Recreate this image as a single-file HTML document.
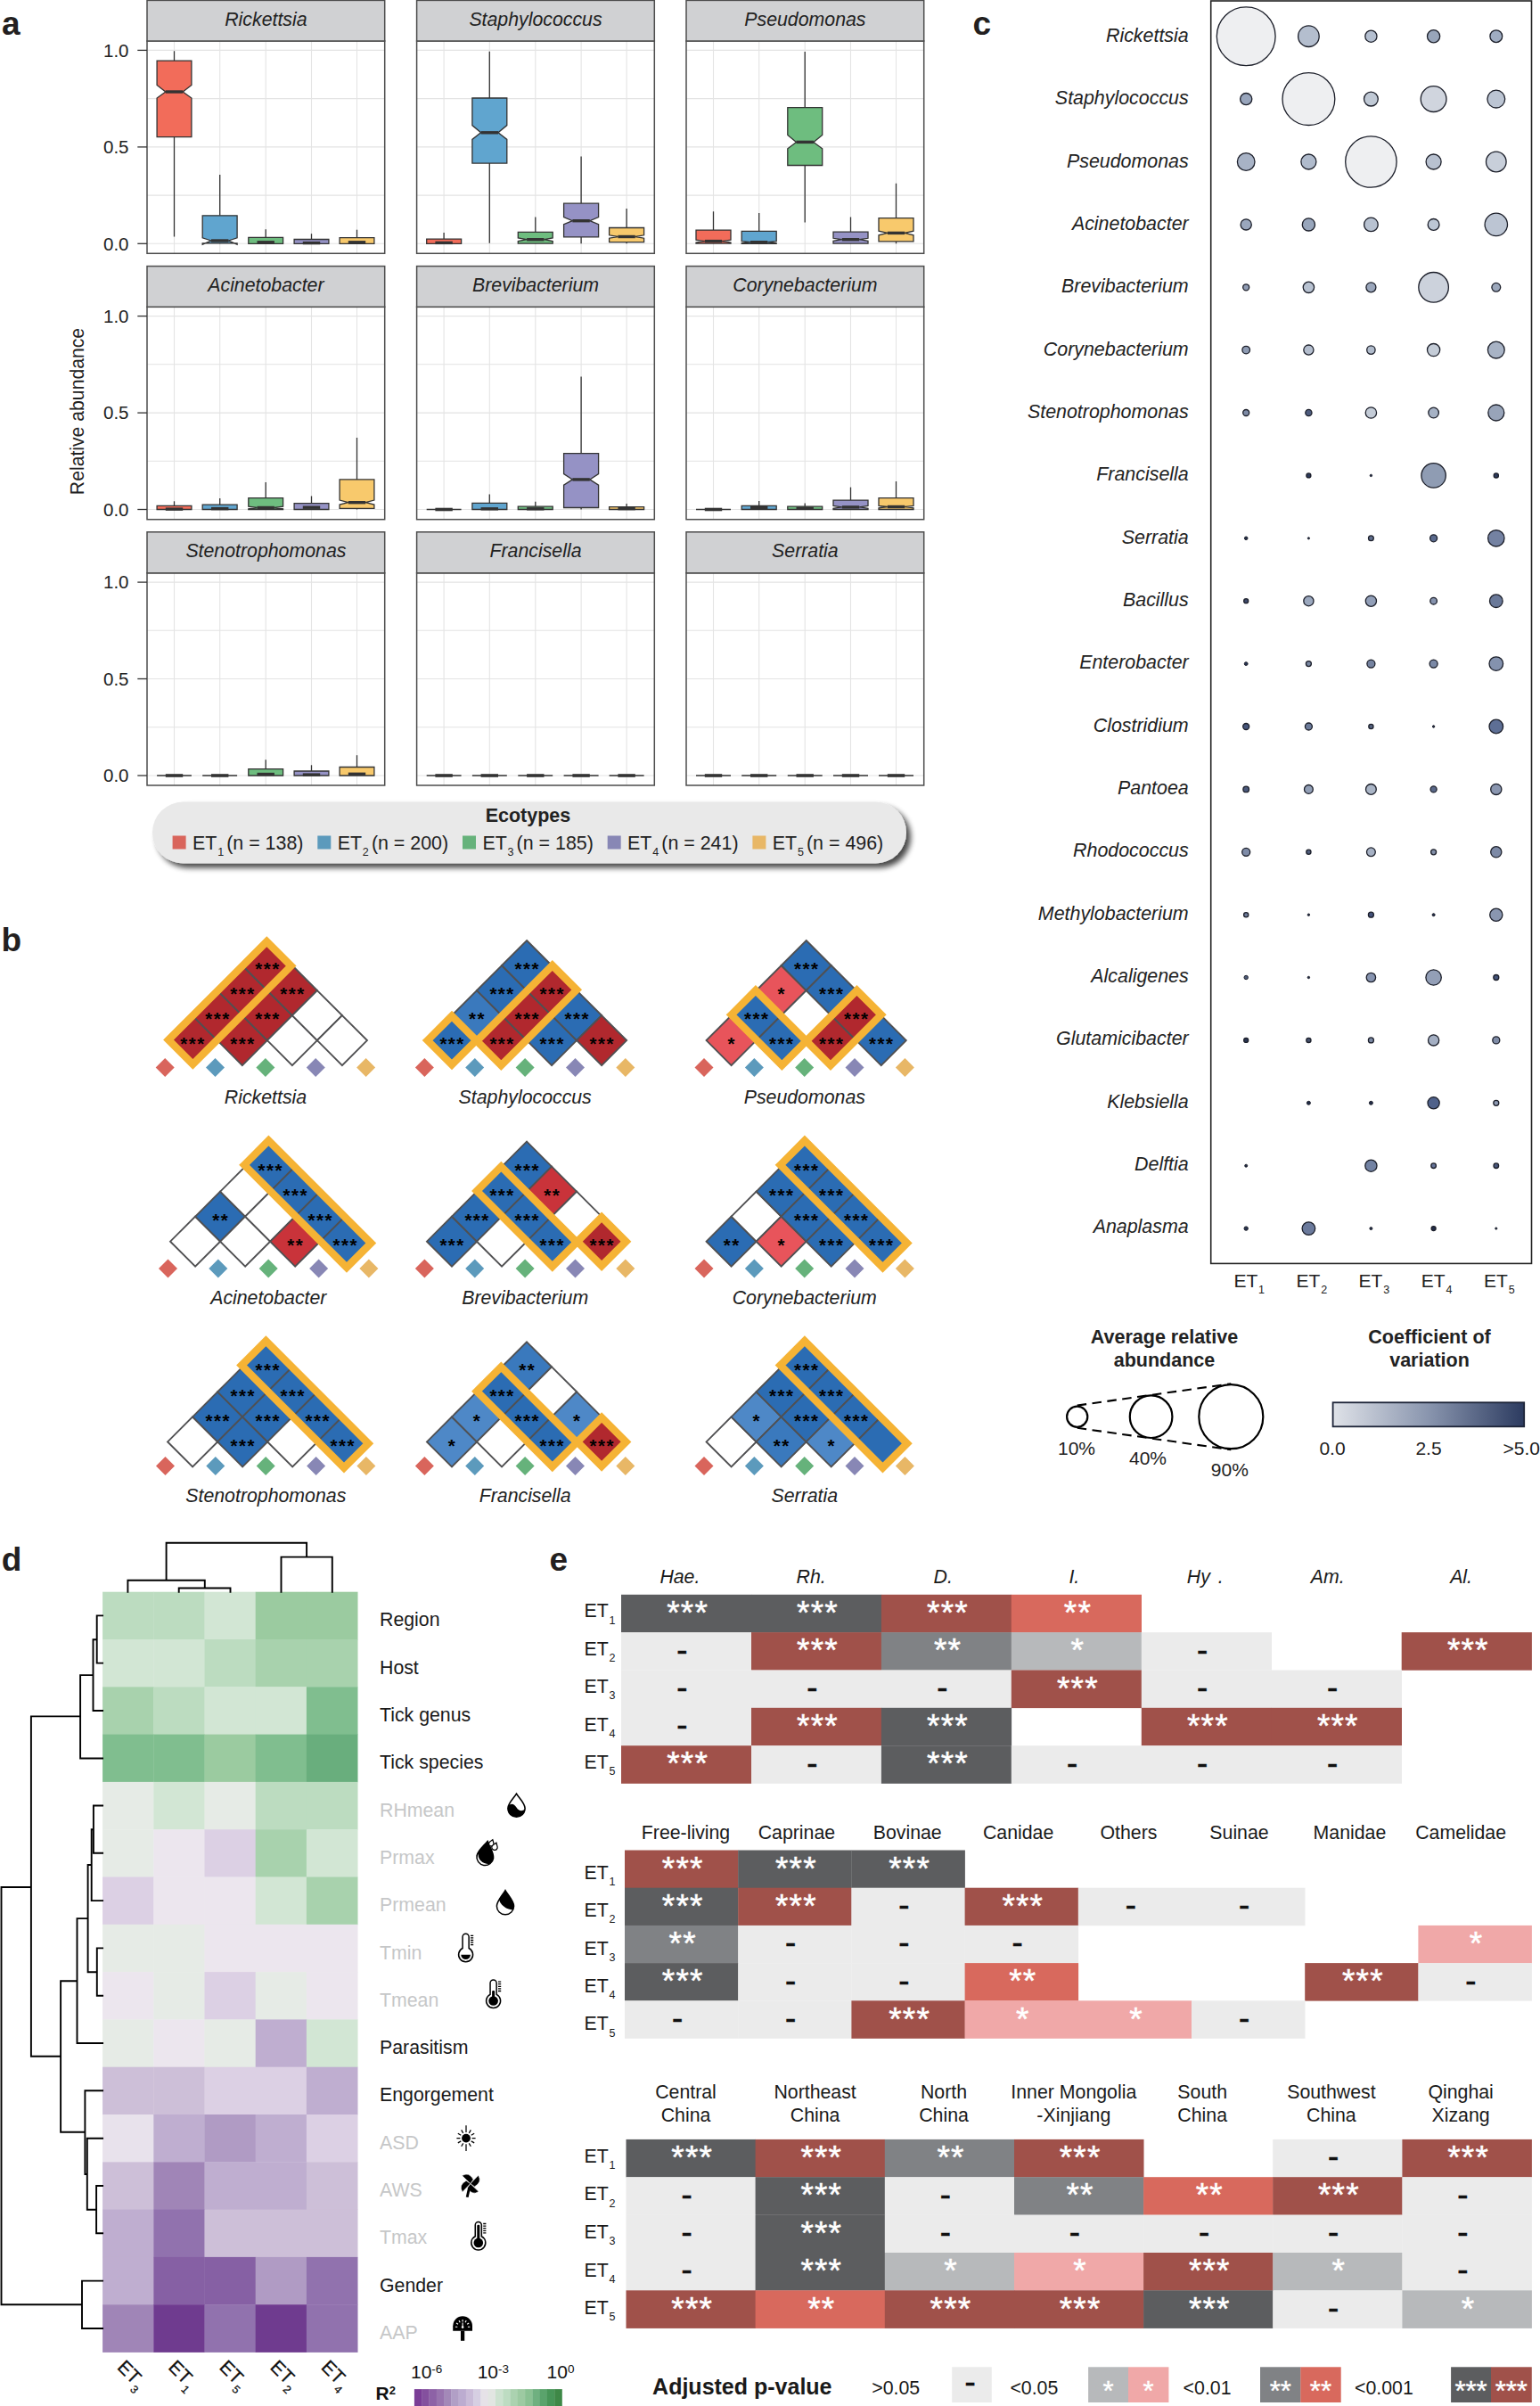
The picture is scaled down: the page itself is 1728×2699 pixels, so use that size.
<!DOCTYPE html>
<html lang="en"><head><meta charset="utf-8"><title>Figure</title>
<style>html,body{margin:0;padding:0;background:#fff}svg{display:block}text{font-family:"Liberation Sans",sans-serif}</style></head>
<body>
<svg width="1728" height="2699" viewBox="0 0 1728 2699">
<rect width="1728" height="2699" fill="#fff"/>
<rect x="165.0" y="46.0" width="266.7" height="238.3" fill="#fff"/>
<path d="M165.0 273.3H431.7M165.0 219.1H431.7M165.0 164.9H431.7M165.0 110.6H431.7M165.0 56.4H431.7M195.5 46.0V284.3M246.7 46.0V284.3M298.2 46.0V284.3M349.5 46.0V284.3M400.5 46.0V284.3" stroke="#e4e4e4" stroke-width="1.1" fill="none"/>
<path d="M195.5 57.3V68.1M195.5 153.6V265.5" stroke="#333" stroke-width="1.3"/>
<polygon points="176.1,68.1 214.9,68.1 214.9,95.4 205.2,103.0 214.9,110.0 214.9,153.6 176.1,153.6 176.1,110.0 185.8,103.0 176.1,95.4" fill="#f26c5a" stroke="#333" stroke-width="1.3" stroke-linejoin="miter"/>
<path d="M185.8 103.0H205.2" stroke="#333" stroke-width="3.4"/>
<path d="M246.7 196.1V241.8M246.7 272.9V273.3" stroke="#333" stroke-width="1.3"/>
<polygon points="227.2,241.8 266.1,241.8 266.1,266.8 256.4,270.0 266.1,274.2 266.1,272.9 227.2,272.9 227.2,274.2 237.0,270.0 227.2,266.8" fill="#60a5cf" stroke="#333" stroke-width="1.3" stroke-linejoin="miter"/>
<path d="M237.0 270.0H256.4" stroke="#333" stroke-width="3.4"/>
<path d="M298.2 257.2V266.4M298.2 273.3V273.3" stroke="#333" stroke-width="1.3"/>
<polygon points="278.8,266.4 317.6,266.4 317.6,273.3 278.8,273.3" fill="#6ebd7f" stroke="#333" stroke-width="1.3" stroke-linejoin="miter"/>
<path d="M288.5 271.8H307.9" stroke="#333" stroke-width="3.4"/>
<path d="M349.5 262.2V268.5M349.5 273.3V273.3" stroke="#333" stroke-width="1.3"/>
<polygon points="330.1,268.5 368.9,268.5 368.9,273.3 330.1,273.3" fill="#9592c5" stroke="#333" stroke-width="1.3" stroke-linejoin="miter"/>
<path d="M339.8 272.6H359.2" stroke="#333" stroke-width="3.4"/>
<path d="M400.5 257.7V266.6M400.5 273.3V273.3" stroke="#333" stroke-width="1.3"/>
<polygon points="381.1,266.6 419.9,266.6 419.9,273.3 381.1,273.3" fill="#f8c96c" stroke="#333" stroke-width="1.3" stroke-linejoin="miter"/>
<path d="M390.8 271.8H410.2" stroke="#333" stroke-width="3.4"/>
<rect x="165.0" y="46.0" width="266.7" height="238.3" fill="none" stroke="#4d4d4d" stroke-width="1.5"/>
<rect x="165.0" y="0.4" width="266.7" height="45.6" fill="#d0d1d3" stroke="#4d4d4d" stroke-width="1.5"/>
<text x="298.4" y="29.0" font-size="21.3" text-anchor="middle" font-style="italic" fill="#222">Rickettsia</text>
<rect x="467.6" y="46.0" width="266.7" height="238.3" fill="#fff"/>
<path d="M467.6 273.3H734.3M467.6 219.1H734.3M467.6 164.9H734.3M467.6 110.6H734.3M467.6 56.4H734.3M498.1 46.0V284.3M549.3 46.0V284.3M600.8 46.0V284.3M652.1 46.0V284.3M703.1 46.0V284.3" stroke="#e4e4e4" stroke-width="1.1" fill="none"/>
<path d="M498.1 260.9V268.1M498.1 273.3V273.3" stroke="#333" stroke-width="1.3"/>
<polygon points="478.7,268.1 517.6,268.1 517.6,273.3 478.7,273.3" fill="#f26c5a" stroke="#333" stroke-width="1.3" stroke-linejoin="miter"/>
<path d="M488.4 272.4H507.8" stroke="#333" stroke-width="3.4"/>
<path d="M549.3 57.7V110.0M549.3 183.1V272.8" stroke="#333" stroke-width="1.3"/>
<polygon points="529.9,110.0 568.8,110.0 568.8,140.6 559.0,148.8 568.8,156.4 568.8,183.1 529.9,183.1 529.9,156.4 539.6,148.8 529.9,140.6" fill="#60a5cf" stroke="#333" stroke-width="1.3" stroke-linejoin="miter"/>
<path d="M539.6 148.8H559.0" stroke="#333" stroke-width="3.4"/>
<path d="M600.8 243.4V260.4M600.8 273.1V273.3" stroke="#333" stroke-width="1.3"/>
<polygon points="581.3,260.4 620.2,260.4 620.2,267.0 610.5,268.7 620.2,270.6 620.2,273.1 581.3,273.1 581.3,270.6 591.1,268.7 581.3,267.0" fill="#6ebd7f" stroke="#333" stroke-width="1.3" stroke-linejoin="miter"/>
<path d="M591.1 268.7H610.5" stroke="#333" stroke-width="3.4"/>
<path d="M652.1 175.5V228.2M652.1 265.9V273.3" stroke="#333" stroke-width="1.3"/>
<polygon points="632.6,228.2 671.6,228.2 671.6,243.6 661.8,247.7 671.6,251.6 671.6,265.9 632.6,265.9 632.6,251.6 642.4,247.7 632.6,243.6" fill="#9592c5" stroke="#333" stroke-width="1.3" stroke-linejoin="miter"/>
<path d="M642.4 247.7H661.8" stroke="#333" stroke-width="3.4"/>
<path d="M703.1 234.0V255.5M703.1 271.6V273.3" stroke="#333" stroke-width="1.3"/>
<polygon points="683.6,255.5 722.6,255.5 722.6,263.8 712.8,265.5 722.6,267.2 722.6,271.6 683.6,271.6 683.6,267.2 693.4,265.5 683.6,263.8" fill="#f8c96c" stroke="#333" stroke-width="1.3" stroke-linejoin="miter"/>
<path d="M693.4 265.5H712.8" stroke="#333" stroke-width="3.4"/>
<rect x="467.6" y="46.0" width="266.7" height="238.3" fill="none" stroke="#4d4d4d" stroke-width="1.5"/>
<rect x="467.6" y="0.4" width="266.7" height="45.6" fill="#d0d1d3" stroke="#4d4d4d" stroke-width="1.5"/>
<text x="601.0" y="29.0" font-size="21.3" text-anchor="middle" font-style="italic" fill="#222">Staphylococcus</text>
<rect x="770.0" y="46.0" width="266.7" height="238.3" fill="#fff"/>
<path d="M770.0 273.3H1036.7M770.0 219.1H1036.7M770.0 164.9H1036.7M770.0 110.6H1036.7M770.0 56.4H1036.7M800.5 46.0V284.3M851.7 46.0V284.3M903.2 46.0V284.3M954.5 46.0V284.3M1005.5 46.0V284.3" stroke="#e4e4e4" stroke-width="1.1" fill="none"/>
<path d="M800.5 237.3V258.1M800.5 273.1V273.3" stroke="#333" stroke-width="1.3"/>
<polygon points="781.0,258.1 820.0,258.1 820.0,269.2 810.2,270.6 820.0,272.0 820.0,273.1 781.0,273.1 781.0,272.0 790.8,270.6 781.0,269.2" fill="#f26c5a" stroke="#333" stroke-width="1.3" stroke-linejoin="miter"/>
<path d="M790.8 270.6H810.2" stroke="#333" stroke-width="3.4"/>
<path d="M851.7 239.0V259.4M851.7 273.3V273.3" stroke="#333" stroke-width="1.3"/>
<polygon points="832.2,259.4 871.2,259.4 871.2,270.6 861.4,271.7 871.2,272.8 871.2,273.3 832.2,273.3 832.2,272.8 842.0,271.7 832.2,270.6" fill="#60a5cf" stroke="#333" stroke-width="1.3" stroke-linejoin="miter"/>
<path d="M842.0 271.7H861.4" stroke="#333" stroke-width="3.4"/>
<path d="M903.2 57.9V120.6M903.2 185.5V249.4" stroke="#333" stroke-width="1.3"/>
<polygon points="883.8,120.6 922.7,120.6 922.7,151.4 912.9,159.4 922.7,166.8 922.7,185.5 883.8,185.5 883.8,166.8 893.5,159.4 883.8,151.4" fill="#6ebd7f" stroke="#333" stroke-width="1.3" stroke-linejoin="miter"/>
<path d="M893.5 159.4H912.9" stroke="#333" stroke-width="3.4"/>
<path d="M954.5 243.4V260.1M954.5 273.1V273.3" stroke="#333" stroke-width="1.3"/>
<polygon points="935.0,260.1 974.0,260.1 974.0,267.3 964.2,268.7 974.0,270.4 974.0,273.1 935.0,273.1 935.0,270.4 944.8,268.7 935.0,267.3" fill="#9592c5" stroke="#333" stroke-width="1.3" stroke-linejoin="miter"/>
<path d="M944.8 268.7H964.2" stroke="#333" stroke-width="3.4"/>
<path d="M1005.5 205.8V244.7M1005.5 270.9V273.3" stroke="#333" stroke-width="1.3"/>
<polygon points="986.0,244.7 1025.0,244.7 1025.0,259.2 1015.2,261.4 1025.0,263.8 1025.0,270.9 986.0,270.9 986.0,263.8 995.8,261.4 986.0,259.2" fill="#f8c96c" stroke="#333" stroke-width="1.3" stroke-linejoin="miter"/>
<path d="M995.8 261.4H1015.2" stroke="#333" stroke-width="3.4"/>
<rect x="770.0" y="46.0" width="266.7" height="238.3" fill="none" stroke="#4d4d4d" stroke-width="1.5"/>
<rect x="770.0" y="0.4" width="266.7" height="45.6" fill="#d0d1d3" stroke="#4d4d4d" stroke-width="1.5"/>
<text x="903.4" y="29.0" font-size="21.3" text-anchor="middle" font-style="italic" fill="#222">Pseudomonas</text>
<path d="M154.3 273.3H165" stroke="#333" stroke-width="1.3"/>
<text x="144.5" y="280.5" font-size="20.5" text-anchor="end" fill="#222">0.0</text>
<path d="M154.3 164.9H165" stroke="#333" stroke-width="1.3"/>
<text x="144.5" y="172.1" font-size="20.5" text-anchor="end" fill="#222">0.5</text>
<path d="M154.3 56.4H165" stroke="#333" stroke-width="1.3"/>
<text x="144.5" y="63.6" font-size="20.5" text-anchor="end" fill="#222">1.0</text>
<rect x="165.0" y="344.3" width="266.7" height="238.4" fill="#fff"/>
<path d="M165.0 571.5H431.7M165.0 517.3H431.7M165.0 463.1H431.7M165.0 408.8H431.7M165.0 354.6H431.7M195.5 344.3V582.7M246.7 344.3V582.7M298.2 344.3V582.7M349.5 344.3V582.7M400.5 344.3V582.7" stroke="#e4e4e4" stroke-width="1.1" fill="none"/>
<path d="M195.5 562.3V567.4M195.5 571.5V571.5" stroke="#333" stroke-width="1.3"/>
<polygon points="176.1,567.4 214.9,567.4 214.9,571.5 176.1,571.5" fill="#f26c5a" stroke="#333" stroke-width="1.3" stroke-linejoin="miter"/>
<path d="M185.8 571.1H205.2" stroke="#333" stroke-width="3.4"/>
<path d="M246.7 559.1V566.1M246.7 571.5V571.5" stroke="#333" stroke-width="1.3"/>
<polygon points="227.2,566.1 266.1,566.1 266.1,571.5 227.2,571.5" fill="#60a5cf" stroke="#333" stroke-width="1.3" stroke-linejoin="miter"/>
<path d="M237.0 570.6H256.4" stroke="#333" stroke-width="3.4"/>
<path d="M298.2 540.9V558.7M298.2 571.5V571.5" stroke="#333" stroke-width="1.3"/>
<polygon points="278.8,558.7 317.6,558.7 317.6,568.2 307.9,569.5 317.6,570.8 317.6,571.5 278.8,571.5 278.8,570.8 288.5,569.5 278.8,568.2" fill="#6ebd7f" stroke="#333" stroke-width="1.3" stroke-linejoin="miter"/>
<path d="M288.5 569.5H307.9" stroke="#333" stroke-width="3.4"/>
<path d="M349.5 556.5V564.6M349.5 571.5V571.5" stroke="#333" stroke-width="1.3"/>
<polygon points="330.1,564.6 368.9,564.6 368.9,571.5 330.1,571.5" fill="#9592c5" stroke="#333" stroke-width="1.3" stroke-linejoin="miter"/>
<path d="M339.8 569.2H359.2" stroke="#333" stroke-width="3.4"/>
<path d="M400.5 491.0V537.9M400.5 570.4V571.5" stroke="#333" stroke-width="1.3"/>
<polygon points="381.1,537.9 419.9,537.9 419.9,561.1 410.2,563.7 419.9,566.1 419.9,570.4 381.1,570.4 381.1,566.1 390.8,563.7 381.1,561.1" fill="#f8c96c" stroke="#333" stroke-width="1.3" stroke-linejoin="miter"/>
<path d="M390.8 563.7H410.2" stroke="#333" stroke-width="3.4"/>
<rect x="165.0" y="344.3" width="266.7" height="238.4" fill="none" stroke="#4d4d4d" stroke-width="1.5"/>
<rect x="165.0" y="298.6" width="266.7" height="45.7" fill="#d0d1d3" stroke="#4d4d4d" stroke-width="1.5"/>
<text x="298.4" y="327.2" font-size="21.3" text-anchor="middle" font-style="italic" fill="#222">Acinetobacter</text>
<rect x="467.6" y="344.3" width="266.7" height="238.4" fill="#fff"/>
<path d="M467.6 571.5H734.3M467.6 517.3H734.3M467.6 463.1H734.3M467.6 408.8H734.3M467.6 354.6H734.3M498.1 344.3V582.7M549.3 344.3V582.7M600.8 344.3V582.7M652.1 344.3V582.7M703.1 344.3V582.7" stroke="#e4e4e4" stroke-width="1.1" fill="none"/>
<path d="M478.7 571.5H517.6" stroke="#333" stroke-width="1.6"/>
<path d="M488.4 571.5H507.8" stroke="#333" stroke-width="3.6"/>
<path d="M549.3 554.4V564.3M549.3 571.5V571.5" stroke="#333" stroke-width="1.3"/>
<polygon points="529.9,564.3 568.8,564.3 568.8,571.5 529.9,571.5" fill="#60a5cf" stroke="#333" stroke-width="1.3" stroke-linejoin="miter"/>
<path d="M539.6 570.8H559.0" stroke="#333" stroke-width="3.4"/>
<path d="M600.8 562.8V568.2M600.8 571.5V571.5" stroke="#333" stroke-width="1.3"/>
<polygon points="581.3,568.2 620.2,568.2 620.2,571.5 581.3,571.5" fill="#6ebd7f" stroke="#333" stroke-width="1.3" stroke-linejoin="miter"/>
<path d="M591.1 570.8H610.5" stroke="#333" stroke-width="3.4"/>
<path d="M652.1 422.5V508.6M652.1 569.5V571.5" stroke="#333" stroke-width="1.3"/>
<polygon points="632.6,508.6 671.6,508.6 671.6,531.6 661.8,537.9 671.6,544.2 671.6,569.5 632.6,569.5 632.6,544.2 642.4,537.9 632.6,531.6" fill="#9592c5" stroke="#333" stroke-width="1.3" stroke-linejoin="miter"/>
<path d="M642.4 537.9H661.8" stroke="#333" stroke-width="3.4"/>
<path d="M703.1 565.0V568.7M703.1 571.5V571.5" stroke="#333" stroke-width="1.3"/>
<polygon points="683.6,568.7 722.6,568.7 722.6,571.5 683.6,571.5" fill="#f8c96c" stroke="#333" stroke-width="1.3" stroke-linejoin="miter"/>
<path d="M693.4 570.6H712.8" stroke="#333" stroke-width="3.4"/>
<rect x="467.6" y="344.3" width="266.7" height="238.4" fill="none" stroke="#4d4d4d" stroke-width="1.5"/>
<rect x="467.6" y="298.6" width="266.7" height="45.7" fill="#d0d1d3" stroke="#4d4d4d" stroke-width="1.5"/>
<text x="601.0" y="327.2" font-size="21.3" text-anchor="middle" font-style="italic" fill="#222">Brevibacterium</text>
<rect x="770.0" y="344.3" width="266.7" height="238.4" fill="#fff"/>
<path d="M770.0 571.5H1036.7M770.0 517.3H1036.7M770.0 463.1H1036.7M770.0 408.8H1036.7M770.0 354.6H1036.7M800.5 344.3V582.7M851.7 344.3V582.7M903.2 344.3V582.7M954.5 344.3V582.7M1005.5 344.3V582.7" stroke="#e4e4e4" stroke-width="1.1" fill="none"/>
<path d="M781.0 571.5H820.0" stroke="#333" stroke-width="1.6"/>
<path d="M790.8 571.5H810.2" stroke="#333" stroke-width="3.6"/>
<path d="M851.7 562.0V567.4M851.7 571.5V571.5" stroke="#333" stroke-width="1.3"/>
<polygon points="832.2,567.4 871.2,567.4 871.2,571.5 832.2,571.5" fill="#60a5cf" stroke="#333" stroke-width="1.3" stroke-linejoin="miter"/>
<path d="M842.0 569.5H861.4" stroke="#333" stroke-width="3.4"/>
<path d="M903.2 564.6V568.2M903.2 571.5V571.5" stroke="#333" stroke-width="1.3"/>
<polygon points="883.8,568.2 922.7,568.2 922.7,571.5 883.8,571.5" fill="#6ebd7f" stroke="#333" stroke-width="1.3" stroke-linejoin="miter"/>
<path d="M893.5 570.2H912.9" stroke="#333" stroke-width="3.4"/>
<path d="M954.5 546.6V561.1M954.5 571.5V571.5" stroke="#333" stroke-width="1.3"/>
<polygon points="935.0,561.1 974.0,561.1 974.0,567.4 964.2,568.9 974.0,570.2 974.0,571.5 935.0,571.5 935.0,570.2 944.8,568.9 935.0,567.4" fill="#9592c5" stroke="#333" stroke-width="1.3" stroke-linejoin="miter"/>
<path d="M944.8 568.9H964.2" stroke="#333" stroke-width="3.4"/>
<path d="M1005.5 540.0V558.7M1005.5 571.5V571.5" stroke="#333" stroke-width="1.3"/>
<polygon points="986.0,558.7 1025.0,558.7 1025.0,567.4 1015.2,568.5 1025.0,569.8 1025.0,571.5 986.0,571.5 986.0,569.8 995.8,568.5 986.0,567.4" fill="#f8c96c" stroke="#333" stroke-width="1.3" stroke-linejoin="miter"/>
<path d="M995.8 568.5H1015.2" stroke="#333" stroke-width="3.4"/>
<rect x="770.0" y="344.3" width="266.7" height="238.4" fill="none" stroke="#4d4d4d" stroke-width="1.5"/>
<rect x="770.0" y="298.6" width="266.7" height="45.7" fill="#d0d1d3" stroke="#4d4d4d" stroke-width="1.5"/>
<text x="903.4" y="327.2" font-size="21.3" text-anchor="middle" font-style="italic" fill="#222">Corynebacterium</text>
<path d="M154.3 571.5H165" stroke="#333" stroke-width="1.3"/>
<text x="144.5" y="578.7" font-size="20.5" text-anchor="end" fill="#222">0.0</text>
<path d="M154.3 463.1H165" stroke="#333" stroke-width="1.3"/>
<text x="144.5" y="470.2" font-size="20.5" text-anchor="end" fill="#222">0.5</text>
<path d="M154.3 354.6H165" stroke="#333" stroke-width="1.3"/>
<text x="144.5" y="361.8" font-size="20.5" text-anchor="end" fill="#222">1.0</text>
<rect x="165.0" y="642.8" width="266.7" height="238.2" fill="#fff"/>
<path d="M165.0 870.0H431.7M165.0 815.8H431.7M165.0 761.5H431.7M165.0 707.3H431.7M165.0 653.1H431.7M195.5 642.8V881.0M246.7 642.8V881.0M298.2 642.8V881.0M349.5 642.8V881.0M400.5 642.8V881.0" stroke="#e4e4e4" stroke-width="1.1" fill="none"/>
<path d="M176.1 870.0H214.9" stroke="#333" stroke-width="1.6"/>
<path d="M185.8 870.0H205.2" stroke="#333" stroke-width="3.6"/>
<path d="M227.2 870.0H266.1" stroke="#333" stroke-width="1.6"/>
<path d="M237.0 870.0H256.4" stroke="#333" stroke-width="3.6"/>
<path d="M298.2 852.2V862.7M298.2 870.0V870.0" stroke="#333" stroke-width="1.3"/>
<polygon points="278.8,862.7 317.6,862.7 317.6,870.0 278.8,870.0" fill="#6ebd7f" stroke="#333" stroke-width="1.3" stroke-linejoin="miter"/>
<path d="M288.5 868.5H307.9" stroke="#333" stroke-width="3.4"/>
<path d="M349.5 858.3V865.0M349.5 870.0V870.0" stroke="#333" stroke-width="1.3"/>
<polygon points="330.1,865.0 368.9,865.0 368.9,870.0 330.1,870.0" fill="#9592c5" stroke="#333" stroke-width="1.3" stroke-linejoin="miter"/>
<path d="M339.8 869.1H359.2" stroke="#333" stroke-width="3.4"/>
<path d="M400.5 847.2V860.5M400.5 870.0V870.0" stroke="#333" stroke-width="1.3"/>
<polygon points="381.1,860.5 419.9,860.5 419.9,870.0 381.1,870.0" fill="#f8c96c" stroke="#333" stroke-width="1.3" stroke-linejoin="miter"/>
<path d="M390.8 868.3H410.2" stroke="#333" stroke-width="3.4"/>
<rect x="165.0" y="642.8" width="266.7" height="238.2" fill="none" stroke="#4d4d4d" stroke-width="1.5"/>
<rect x="165.0" y="596.8" width="266.7" height="46.0" fill="#d0d1d3" stroke="#4d4d4d" stroke-width="1.5"/>
<text x="298.4" y="625.4" font-size="21.3" text-anchor="middle" font-style="italic" fill="#222">Stenotrophomonas</text>
<rect x="467.6" y="642.8" width="266.7" height="238.2" fill="#fff"/>
<path d="M467.6 870.0H734.3M467.6 815.8H734.3M467.6 761.5H734.3M467.6 707.3H734.3M467.6 653.1H734.3M498.1 642.8V881.0M549.3 642.8V881.0M600.8 642.8V881.0M652.1 642.8V881.0M703.1 642.8V881.0" stroke="#e4e4e4" stroke-width="1.1" fill="none"/>
<path d="M478.7 870.0H517.6" stroke="#333" stroke-width="1.6"/>
<path d="M488.4 870.0H507.8" stroke="#333" stroke-width="3.6"/>
<path d="M529.9 870.0H568.8" stroke="#333" stroke-width="1.6"/>
<path d="M539.6 870.0H559.0" stroke="#333" stroke-width="3.6"/>
<path d="M581.3 870.0H620.2" stroke="#333" stroke-width="1.6"/>
<path d="M591.1 870.0H610.5" stroke="#333" stroke-width="3.6"/>
<path d="M632.6 870.0H671.6" stroke="#333" stroke-width="1.6"/>
<path d="M642.4 870.0H661.8" stroke="#333" stroke-width="3.6"/>
<path d="M683.6 870.0H722.6" stroke="#333" stroke-width="1.6"/>
<path d="M693.4 870.0H712.8" stroke="#333" stroke-width="3.6"/>
<rect x="467.6" y="642.8" width="266.7" height="238.2" fill="none" stroke="#4d4d4d" stroke-width="1.5"/>
<rect x="467.6" y="596.8" width="266.7" height="46.0" fill="#d0d1d3" stroke="#4d4d4d" stroke-width="1.5"/>
<text x="601.0" y="625.4" font-size="21.3" text-anchor="middle" font-style="italic" fill="#222">Francisella</text>
<rect x="770.0" y="642.8" width="266.7" height="238.2" fill="#fff"/>
<path d="M770.0 870.0H1036.7M770.0 815.8H1036.7M770.0 761.5H1036.7M770.0 707.3H1036.7M770.0 653.1H1036.7M800.5 642.8V881.0M851.7 642.8V881.0M903.2 642.8V881.0M954.5 642.8V881.0M1005.5 642.8V881.0" stroke="#e4e4e4" stroke-width="1.1" fill="none"/>
<path d="M781.0 870.0H820.0" stroke="#333" stroke-width="1.6"/>
<path d="M790.8 870.0H810.2" stroke="#333" stroke-width="3.6"/>
<path d="M832.2 870.0H871.2" stroke="#333" stroke-width="1.6"/>
<path d="M842.0 870.0H861.4" stroke="#333" stroke-width="3.6"/>
<path d="M883.8 870.0H922.7" stroke="#333" stroke-width="1.6"/>
<path d="M893.5 870.0H912.9" stroke="#333" stroke-width="3.6"/>
<path d="M935.0 870.0H974.0" stroke="#333" stroke-width="1.6"/>
<path d="M944.8 870.0H964.2" stroke="#333" stroke-width="3.6"/>
<path d="M986.0 870.0H1025.0" stroke="#333" stroke-width="1.6"/>
<path d="M995.8 870.0H1015.2" stroke="#333" stroke-width="3.6"/>
<rect x="770.0" y="642.8" width="266.7" height="238.2" fill="none" stroke="#4d4d4d" stroke-width="1.5"/>
<rect x="770.0" y="596.8" width="266.7" height="46.0" fill="#d0d1d3" stroke="#4d4d4d" stroke-width="1.5"/>
<text x="903.4" y="625.4" font-size="21.3" text-anchor="middle" font-style="italic" fill="#222">Serratia</text>
<path d="M154.3 870.0H165" stroke="#333" stroke-width="1.3"/>
<text x="144.5" y="877.2" font-size="20.5" text-anchor="end" fill="#222">0.0</text>
<path d="M154.3 761.5H165" stroke="#333" stroke-width="1.3"/>
<text x="144.5" y="768.8" font-size="20.5" text-anchor="end" fill="#222">0.5</text>
<path d="M154.3 653.1H165" stroke="#333" stroke-width="1.3"/>
<text x="144.5" y="660.3" font-size="20.5" text-anchor="end" fill="#222">1.0</text>
<text transform="translate(93.5 461.5) rotate(-90)" text-anchor="middle" font-size="21.2" fill="#222">Relative abundance</text>
<defs><filter id="sh" x="-5%" y="-30%" width="110%" height="170%"><feGaussianBlur in="SourceAlpha" stdDeviation="3.4"/><feOffset dx="4.5" dy="4.5"/><feComponentTransfer><feFuncA type="linear" slope="0.72"/></feComponentTransfer><feMerge><feMergeNode/><feMergeNode in="SourceGraphic"/></feMerge></filter></defs>
<rect x="171" y="899.5" width="846" height="69" rx="34.5" fill="#e9e9e9" filter="url(#sh)"/>
<text x="592.5" y="922.3" font-size="21.5" text-anchor="middle" font-weight="bold" fill="#222">Ecotypes</text>
<rect x="193.6" y="937.5" width="15" height="15" fill="#d9655c"/>
<text x="216.0" y="952.8" font-size="21.4" fill="#222">ET<tspan dx="0.8" dy="7.2" font-size="12.5">1</tspan></text>
<text x="254.2" y="952.8" font-size="21.4" fill="#222">(n = 138)</text>
<rect x="356.3" y="937.5" width="15" height="15" fill="#5c9abc"/>
<text x="378.7" y="952.8" font-size="21.4" fill="#222">ET<tspan dx="0.8" dy="7.2" font-size="12.5">2</tspan></text>
<text x="416.9" y="952.8" font-size="21.4" fill="#222">(n = 200)</text>
<rect x="519.0" y="937.5" width="15" height="15" fill="#66b27b"/>
<text x="541.4" y="952.8" font-size="21.4" fill="#222">ET<tspan dx="0.8" dy="7.2" font-size="12.5">3</tspan></text>
<text x="579.6" y="952.8" font-size="21.4" fill="#222">(n = 185)</text>
<rect x="681.7" y="937.5" width="15" height="15" fill="#8887b5"/>
<text x="704.1" y="952.8" font-size="21.4" fill="#222">ET<tspan dx="0.8" dy="7.2" font-size="12.5">4</tspan></text>
<text x="742.3" y="952.8" font-size="21.4" fill="#222">(n = 241)</text>
<rect x="844.4" y="937.5" width="15" height="15" fill="#e8b766"/>
<text x="866.8" y="952.8" font-size="21.4" fill="#222">ET<tspan dx="0.8" dy="7.2" font-size="12.5">5</tspan></text>
<text x="905.0" y="952.8" font-size="21.4" fill="#222">(n = 496)</text>
<text x="2.0" y="38.8" font-size="37" font-weight="bold" fill="#231f20">a</text>
<polygon points="215.80,1139.08 243.82,1167.10 215.80,1195.12 187.78,1167.10" fill="#b1282e" stroke="#505052" stroke-width="1.9"/>
<polygon points="243.82,1111.06 271.84,1139.08 243.82,1167.10 215.80,1139.08" fill="#b1282e" stroke="#505052" stroke-width="1.9"/>
<polygon points="271.84,1083.04 299.86,1111.06 271.84,1139.08 243.82,1111.06" fill="#b1282e" stroke="#505052" stroke-width="1.9"/>
<polygon points="299.86,1055.02 327.88,1083.04 299.86,1111.06 271.84,1083.04" fill="#b1282e" stroke="#505052" stroke-width="1.9"/>
<polygon points="271.84,1139.08 299.86,1167.10 271.84,1195.12 243.82,1167.10" fill="#b1282e" stroke="#505052" stroke-width="1.9"/>
<polygon points="299.86,1111.06 327.88,1139.08 299.86,1167.10 271.84,1139.08" fill="#b1282e" stroke="#505052" stroke-width="1.9"/>
<polygon points="327.88,1083.04 355.90,1111.06 327.88,1139.08 299.86,1111.06" fill="#b1282e" stroke="#505052" stroke-width="1.9"/>
<polygon points="327.88,1139.08 355.90,1167.10 327.88,1195.12 299.86,1167.10" fill="#ffffff" stroke="#505052" stroke-width="1.9"/>
<polygon points="355.90,1111.06 383.92,1139.08 355.90,1167.10 327.88,1139.08" fill="#ffffff" stroke="#505052" stroke-width="1.9"/>
<polygon points="383.92,1139.08 411.94,1167.10 383.92,1195.12 355.90,1167.10" fill="#ffffff" stroke="#505052" stroke-width="1.9"/>
<polygon points="189.05,1166.53 299.29,1056.29 326.61,1083.61 216.37,1193.85" fill="none" stroke="#f5b335" stroke-width="8.4" stroke-linejoin="miter"/>
<text x="216.4" y="1178.2" font-size="20.5" font-weight="bold" letter-spacing="1.5" text-anchor="middle" fill="#000">***</text>
<text x="244.4" y="1150.2" font-size="20.5" font-weight="bold" letter-spacing="1.5" text-anchor="middle" fill="#000">***</text>
<text x="272.4" y="1122.2" font-size="20.5" font-weight="bold" letter-spacing="1.5" text-anchor="middle" fill="#000">***</text>
<text x="300.5" y="1094.1" font-size="20.5" font-weight="bold" letter-spacing="1.5" text-anchor="middle" fill="#000">***</text>
<text x="272.4" y="1178.2" font-size="20.5" font-weight="bold" letter-spacing="1.5" text-anchor="middle" fill="#000">***</text>
<text x="300.5" y="1150.2" font-size="20.5" font-weight="bold" letter-spacing="1.5" text-anchor="middle" fill="#000">***</text>
<text x="328.5" y="1122.2" font-size="20.5" font-weight="bold" letter-spacing="1.5" text-anchor="middle" fill="#000">***</text>
<polygon points="185.2,1187.0 195.7,1197.5 185.2,1208.0 174.7,1197.5" fill="#d9655c"/>
<polygon points="241.5,1187.0 252.0,1197.5 241.5,1208.0 231.0,1197.5" fill="#5c9abc"/>
<polygon points="297.9,1187.0 308.4,1197.5 297.9,1208.0 287.4,1197.5" fill="#66b27b"/>
<polygon points="354.2,1187.0 364.8,1197.5 354.2,1208.0 343.8,1197.5" fill="#8887b5"/>
<polygon points="410.6,1187.0 421.1,1197.5 410.6,1208.0 400.1,1197.5" fill="#e8b766"/>
<text x="298.0" y="1237.8" font-size="21.3" text-anchor="middle" font-style="italic" fill="#222">Rickettsia</text>
<polygon points="507.00,1139.08 535.02,1167.10 507.00,1195.12 478.98,1167.10" fill="#2b6cb3" stroke="#505052" stroke-width="1.9"/>
<polygon points="535.02,1111.06 563.04,1139.08 535.02,1167.10 507.00,1139.08" fill="#3a79bd" stroke="#505052" stroke-width="1.9"/>
<polygon points="563.04,1083.04 591.06,1111.06 563.04,1139.08 535.02,1111.06" fill="#2b6cb3" stroke="#505052" stroke-width="1.9"/>
<polygon points="591.06,1055.02 619.08,1083.04 591.06,1111.06 563.04,1083.04" fill="#2b6cb3" stroke="#505052" stroke-width="1.9"/>
<polygon points="563.04,1139.08 591.06,1167.10 563.04,1195.12 535.02,1167.10" fill="#b1282e" stroke="#505052" stroke-width="1.9"/>
<polygon points="591.06,1111.06 619.08,1139.08 591.06,1167.10 563.04,1139.08" fill="#b1282e" stroke="#505052" stroke-width="1.9"/>
<polygon points="619.08,1083.04 647.10,1111.06 619.08,1139.08 591.06,1111.06" fill="#b1282e" stroke="#505052" stroke-width="1.9"/>
<polygon points="619.08,1139.08 647.10,1167.10 619.08,1195.12 591.06,1167.10" fill="#2b6cb3" stroke="#505052" stroke-width="1.9"/>
<polygon points="647.10,1111.06 675.12,1139.08 647.10,1167.10 619.08,1139.08" fill="#2b6cb3" stroke="#505052" stroke-width="1.9"/>
<polygon points="675.12,1139.08 703.14,1167.10 675.12,1195.12 647.10,1167.10" fill="#b1282e" stroke="#505052" stroke-width="1.9"/>
<polygon points="479.69,1167.10 507.00,1139.79 534.31,1167.10 507.00,1194.41" fill="none" stroke="#f5b335" stroke-width="8.4" stroke-linejoin="miter"/>
<polygon points="535.02,1167.81 619.79,1083.04 647.10,1110.35 562.33,1195.12" fill="none" stroke="#f5b335" stroke-width="8.4" stroke-linejoin="miter"/>
<text x="507.6" y="1178.2" font-size="20.5" font-weight="bold" letter-spacing="1.5" text-anchor="middle" fill="#000">***</text>
<text x="535.6" y="1150.2" font-size="20.5" font-weight="bold" letter-spacing="1.5" text-anchor="middle" fill="#000">**</text>
<text x="563.6" y="1122.2" font-size="20.5" font-weight="bold" letter-spacing="1.5" text-anchor="middle" fill="#000">***</text>
<text x="591.7" y="1094.1" font-size="20.5" font-weight="bold" letter-spacing="1.5" text-anchor="middle" fill="#000">***</text>
<text x="563.6" y="1178.2" font-size="20.5" font-weight="bold" letter-spacing="1.5" text-anchor="middle" fill="#000">***</text>
<text x="591.7" y="1150.2" font-size="20.5" font-weight="bold" letter-spacing="1.5" text-anchor="middle" fill="#000">***</text>
<text x="619.7" y="1122.2" font-size="20.5" font-weight="bold" letter-spacing="1.5" text-anchor="middle" fill="#000">***</text>
<text x="619.7" y="1178.2" font-size="20.5" font-weight="bold" letter-spacing="1.5" text-anchor="middle" fill="#000">***</text>
<text x="647.7" y="1150.2" font-size="20.5" font-weight="bold" letter-spacing="1.5" text-anchor="middle" fill="#000">***</text>
<text x="675.7" y="1178.2" font-size="20.5" font-weight="bold" letter-spacing="1.5" text-anchor="middle" fill="#000">***</text>
<polygon points="476.4,1187.0 486.9,1197.5 476.4,1208.0 465.9,1197.5" fill="#d9655c"/>
<polygon points="532.8,1187.0 543.2,1197.5 532.8,1208.0 522.2,1197.5" fill="#5c9abc"/>
<polygon points="589.1,1187.0 599.6,1197.5 589.1,1208.0 578.6,1197.5" fill="#66b27b"/>
<polygon points="645.5,1187.0 656.0,1197.5 645.5,1208.0 635.0,1197.5" fill="#8887b5"/>
<polygon points="701.8,1187.0 712.3,1197.5 701.8,1208.0 691.3,1197.5" fill="#e8b766"/>
<text x="589.2" y="1237.8" font-size="21.3" text-anchor="middle" font-style="italic" fill="#222">Staphylococcus</text>
<polygon points="820.60,1139.08 848.62,1167.10 820.60,1195.12 792.58,1167.10" fill="#e8545b" stroke="#505052" stroke-width="1.9"/>
<polygon points="848.62,1111.06 876.64,1139.08 848.62,1167.10 820.60,1139.08" fill="#2b6cb3" stroke="#505052" stroke-width="1.9"/>
<polygon points="876.64,1083.04 904.66,1111.06 876.64,1139.08 848.62,1111.06" fill="#e8545b" stroke="#505052" stroke-width="1.9"/>
<polygon points="904.66,1055.02 932.68,1083.04 904.66,1111.06 876.64,1083.04" fill="#2b6cb3" stroke="#505052" stroke-width="1.9"/>
<polygon points="876.64,1139.08 904.66,1167.10 876.64,1195.12 848.62,1167.10" fill="#2b6cb3" stroke="#505052" stroke-width="1.9"/>
<polygon points="904.66,1111.06 932.68,1139.08 904.66,1167.10 876.64,1139.08" fill="#ffffff" stroke="#505052" stroke-width="1.9"/>
<polygon points="932.68,1083.04 960.70,1111.06 932.68,1139.08 904.66,1111.06" fill="#2b6cb3" stroke="#505052" stroke-width="1.9"/>
<polygon points="932.68,1139.08 960.70,1167.10 932.68,1195.12 904.66,1167.10" fill="#b1282e" stroke="#505052" stroke-width="1.9"/>
<polygon points="960.70,1111.06 988.72,1139.08 960.70,1167.10 932.68,1139.08" fill="#b1282e" stroke="#505052" stroke-width="1.9"/>
<polygon points="988.72,1139.08 1016.74,1167.10 988.72,1195.12 960.70,1167.10" fill="#2b6cb3" stroke="#505052" stroke-width="1.9"/>
<polygon points="820.60,1138.37 847.91,1111.06 904.66,1167.81 877.35,1195.12" fill="none" stroke="#f5b335" stroke-width="8.4" stroke-linejoin="miter"/>
<polygon points="904.66,1167.81 961.41,1111.06 988.72,1138.37 931.97,1195.12" fill="none" stroke="#f5b335" stroke-width="8.4" stroke-linejoin="miter"/>
<text x="821.2" y="1178.2" font-size="20.5" font-weight="bold" letter-spacing="1.5" text-anchor="middle" fill="#000">*</text>
<text x="849.2" y="1150.2" font-size="20.5" font-weight="bold" letter-spacing="1.5" text-anchor="middle" fill="#000">***</text>
<text x="877.2" y="1122.2" font-size="20.5" font-weight="bold" letter-spacing="1.5" text-anchor="middle" fill="#000">*</text>
<text x="905.3" y="1094.1" font-size="20.5" font-weight="bold" letter-spacing="1.5" text-anchor="middle" fill="#000">***</text>
<text x="877.2" y="1178.2" font-size="20.5" font-weight="bold" letter-spacing="1.5" text-anchor="middle" fill="#000">***</text>
<text x="933.3" y="1122.2" font-size="20.5" font-weight="bold" letter-spacing="1.5" text-anchor="middle" fill="#000">***</text>
<text x="933.3" y="1178.2" font-size="20.5" font-weight="bold" letter-spacing="1.5" text-anchor="middle" fill="#000">***</text>
<text x="961.3" y="1150.2" font-size="20.5" font-weight="bold" letter-spacing="1.5" text-anchor="middle" fill="#000">***</text>
<text x="989.3" y="1178.2" font-size="20.5" font-weight="bold" letter-spacing="1.5" text-anchor="middle" fill="#000">***</text>
<polygon points="790.0,1187.0 800.5,1197.5 790.0,1208.0 779.5,1197.5" fill="#d9655c"/>
<polygon points="846.4,1187.0 856.9,1197.5 846.4,1208.0 835.9,1197.5" fill="#5c9abc"/>
<polygon points="902.7,1187.0 913.2,1197.5 902.7,1208.0 892.2,1197.5" fill="#66b27b"/>
<polygon points="959.0,1187.0 969.5,1197.5 959.0,1208.0 948.5,1197.5" fill="#8887b5"/>
<polygon points="1015.4,1187.0 1025.9,1197.5 1015.4,1208.0 1004.9,1197.5" fill="#e8b766"/>
<text x="902.8" y="1237.8" font-size="21.3" text-anchor="middle" font-style="italic" fill="#222">Pseudomonas</text>
<polygon points="219.10,1364.68 247.12,1392.70 219.10,1420.72 191.08,1392.70" fill="#ffffff" stroke="#505052" stroke-width="1.9"/>
<polygon points="247.12,1336.66 275.14,1364.68 247.12,1392.70 219.10,1364.68" fill="#2b6cb3" stroke="#505052" stroke-width="1.9"/>
<polygon points="275.14,1308.64 303.16,1336.66 275.14,1364.68 247.12,1336.66" fill="#ffffff" stroke="#505052" stroke-width="1.9"/>
<polygon points="303.16,1280.62 331.18,1308.64 303.16,1336.66 275.14,1308.64" fill="#2b6cb3" stroke="#505052" stroke-width="1.9"/>
<polygon points="275.14,1364.68 303.16,1392.70 275.14,1420.72 247.12,1392.70" fill="#ffffff" stroke="#505052" stroke-width="1.9"/>
<polygon points="303.16,1336.66 331.18,1364.68 303.16,1392.70 275.14,1364.68" fill="#ffffff" stroke="#505052" stroke-width="1.9"/>
<polygon points="331.18,1308.64 359.20,1336.66 331.18,1364.68 303.16,1336.66" fill="#2b6cb3" stroke="#505052" stroke-width="1.9"/>
<polygon points="331.18,1364.68 359.20,1392.70 331.18,1420.72 303.16,1392.70" fill="#c9333a" stroke="#505052" stroke-width="1.9"/>
<polygon points="359.20,1336.66 387.22,1364.68 359.20,1392.70 331.18,1364.68" fill="#2b6cb3" stroke="#505052" stroke-width="1.9"/>
<polygon points="387.22,1364.68 415.24,1392.70 387.22,1420.72 359.20,1392.70" fill="#2b6cb3" stroke="#505052" stroke-width="1.9"/>
<polygon points="274.08,1306.87 301.39,1279.56 416.30,1394.47 388.99,1421.78" fill="none" stroke="#f5b335" stroke-width="8.4" stroke-linejoin="miter"/>
<text x="247.7" y="1375.8" font-size="20.5" font-weight="bold" letter-spacing="1.5" text-anchor="middle" fill="#000">**</text>
<text x="303.8" y="1319.7" font-size="20.5" font-weight="bold" letter-spacing="1.5" text-anchor="middle" fill="#000">***</text>
<text x="331.8" y="1347.8" font-size="20.5" font-weight="bold" letter-spacing="1.5" text-anchor="middle" fill="#000">***</text>
<text x="331.8" y="1403.8" font-size="20.5" font-weight="bold" letter-spacing="1.5" text-anchor="middle" fill="#000">**</text>
<text x="359.8" y="1375.8" font-size="20.5" font-weight="bold" letter-spacing="1.5" text-anchor="middle" fill="#000">***</text>
<text x="387.8" y="1403.8" font-size="20.5" font-weight="bold" letter-spacing="1.5" text-anchor="middle" fill="#000">***</text>
<polygon points="188.5,1412.6 199.0,1423.1 188.5,1433.6 178.0,1423.1" fill="#d9655c"/>
<polygon points="244.8,1412.6 255.3,1423.1 244.8,1433.6 234.3,1423.1" fill="#5c9abc"/>
<polygon points="301.2,1412.6 311.7,1423.1 301.2,1433.6 290.7,1423.1" fill="#66b27b"/>
<polygon points="357.6,1412.6 368.1,1423.1 357.6,1433.6 347.1,1423.1" fill="#8887b5"/>
<polygon points="413.9,1412.6 424.4,1423.1 413.9,1433.6 403.4,1423.1" fill="#e8b766"/>
<text x="301.3" y="1463.4" font-size="21.3" text-anchor="middle" font-style="italic" fill="#222">Acinetobacter</text>
<polygon points="507.00,1364.68 535.02,1392.70 507.00,1420.72 478.98,1392.70" fill="#2b6cb3" stroke="#505052" stroke-width="1.9"/>
<polygon points="535.02,1336.66 563.04,1364.68 535.02,1392.70 507.00,1364.68" fill="#2b6cb3" stroke="#505052" stroke-width="1.9"/>
<polygon points="563.04,1308.64 591.06,1336.66 563.04,1364.68 535.02,1336.66" fill="#2b6cb3" stroke="#505052" stroke-width="1.9"/>
<polygon points="591.06,1280.62 619.08,1308.64 591.06,1336.66 563.04,1308.64" fill="#2b6cb3" stroke="#505052" stroke-width="1.9"/>
<polygon points="563.04,1364.68 591.06,1392.70 563.04,1420.72 535.02,1392.70" fill="#ffffff" stroke="#505052" stroke-width="1.9"/>
<polygon points="591.06,1336.66 619.08,1364.68 591.06,1392.70 563.04,1364.68" fill="#2b6cb3" stroke="#505052" stroke-width="1.9"/>
<polygon points="619.08,1308.64 647.10,1336.66 619.08,1364.68 591.06,1336.66" fill="#c9333a" stroke="#505052" stroke-width="1.9"/>
<polygon points="619.08,1364.68 647.10,1392.70 619.08,1420.72 591.06,1392.70" fill="#2b6cb3" stroke="#505052" stroke-width="1.9"/>
<polygon points="647.10,1336.66 675.12,1364.68 647.10,1392.70 619.08,1364.68" fill="#ffffff" stroke="#505052" stroke-width="1.9"/>
<polygon points="675.12,1364.68 703.14,1392.70 675.12,1420.72 647.10,1392.70" fill="#b1282e" stroke="#505052" stroke-width="1.9"/>
<polygon points="535.02,1335.95 562.33,1308.64 647.10,1393.41 619.79,1420.72" fill="none" stroke="#f5b335" stroke-width="8.4" stroke-linejoin="miter"/>
<polygon points="647.81,1392.70 675.12,1365.39 702.43,1392.70 675.12,1420.01" fill="none" stroke="#f5b335" stroke-width="8.4" stroke-linejoin="miter"/>
<text x="507.6" y="1403.8" font-size="20.5" font-weight="bold" letter-spacing="1.5" text-anchor="middle" fill="#000">***</text>
<text x="535.6" y="1375.8" font-size="20.5" font-weight="bold" letter-spacing="1.5" text-anchor="middle" fill="#000">***</text>
<text x="563.6" y="1347.8" font-size="20.5" font-weight="bold" letter-spacing="1.5" text-anchor="middle" fill="#000">***</text>
<text x="591.7" y="1319.7" font-size="20.5" font-weight="bold" letter-spacing="1.5" text-anchor="middle" fill="#000">***</text>
<text x="591.7" y="1375.8" font-size="20.5" font-weight="bold" letter-spacing="1.5" text-anchor="middle" fill="#000">***</text>
<text x="619.7" y="1347.8" font-size="20.5" font-weight="bold" letter-spacing="1.5" text-anchor="middle" fill="#000">**</text>
<text x="619.7" y="1403.8" font-size="20.5" font-weight="bold" letter-spacing="1.5" text-anchor="middle" fill="#000">***</text>
<text x="675.7" y="1403.8" font-size="20.5" font-weight="bold" letter-spacing="1.5" text-anchor="middle" fill="#000">***</text>
<polygon points="476.4,1412.6 486.9,1423.1 476.4,1433.6 465.9,1423.1" fill="#d9655c"/>
<polygon points="532.8,1412.6 543.2,1423.1 532.8,1433.6 522.2,1423.1" fill="#5c9abc"/>
<polygon points="589.1,1412.6 599.6,1423.1 589.1,1433.6 578.6,1423.1" fill="#66b27b"/>
<polygon points="645.5,1412.6 656.0,1423.1 645.5,1433.6 635.0,1423.1" fill="#8887b5"/>
<polygon points="701.8,1412.6 712.3,1423.1 701.8,1433.6 691.3,1423.1" fill="#e8b766"/>
<text x="589.2" y="1463.4" font-size="21.3" text-anchor="middle" font-style="italic" fill="#222">Brevibacterium</text>
<polygon points="820.60,1364.68 848.62,1392.70 820.60,1420.72 792.58,1392.70" fill="#2b6cb3" stroke="#505052" stroke-width="1.9"/>
<polygon points="848.62,1336.66 876.64,1364.68 848.62,1392.70 820.60,1364.68" fill="#ffffff" stroke="#505052" stroke-width="1.9"/>
<polygon points="876.64,1308.64 904.66,1336.66 876.64,1364.68 848.62,1336.66" fill="#2b6cb3" stroke="#505052" stroke-width="1.9"/>
<polygon points="904.66,1280.62 932.68,1308.64 904.66,1336.66 876.64,1308.64" fill="#2b6cb3" stroke="#505052" stroke-width="1.9"/>
<polygon points="876.64,1364.68 904.66,1392.70 876.64,1420.72 848.62,1392.70" fill="#e8545b" stroke="#505052" stroke-width="1.9"/>
<polygon points="904.66,1336.66 932.68,1364.68 904.66,1392.70 876.64,1364.68" fill="#2b6cb3" stroke="#505052" stroke-width="1.9"/>
<polygon points="932.68,1308.64 960.70,1336.66 932.68,1364.68 904.66,1336.66" fill="#2b6cb3" stroke="#505052" stroke-width="1.9"/>
<polygon points="932.68,1364.68 960.70,1392.70 932.68,1420.72 904.66,1392.70" fill="#2b6cb3" stroke="#505052" stroke-width="1.9"/>
<polygon points="960.70,1336.66 988.72,1364.68 960.70,1392.70 932.68,1364.68" fill="#2b6cb3" stroke="#505052" stroke-width="1.9"/>
<polygon points="988.72,1364.68 1016.74,1392.70 988.72,1420.72 960.70,1392.70" fill="#2b6cb3" stroke="#505052" stroke-width="1.9"/>
<polygon points="875.58,1306.87 902.89,1279.56 1017.80,1394.47 990.49,1421.78" fill="none" stroke="#f5b335" stroke-width="8.4" stroke-linejoin="miter"/>
<text x="821.2" y="1403.8" font-size="20.5" font-weight="bold" letter-spacing="1.5" text-anchor="middle" fill="#000">**</text>
<text x="877.2" y="1347.8" font-size="20.5" font-weight="bold" letter-spacing="1.5" text-anchor="middle" fill="#000">***</text>
<text x="905.3" y="1319.7" font-size="20.5" font-weight="bold" letter-spacing="1.5" text-anchor="middle" fill="#000">***</text>
<text x="877.2" y="1403.8" font-size="20.5" font-weight="bold" letter-spacing="1.5" text-anchor="middle" fill="#000">*</text>
<text x="905.3" y="1375.8" font-size="20.5" font-weight="bold" letter-spacing="1.5" text-anchor="middle" fill="#000">***</text>
<text x="933.3" y="1347.8" font-size="20.5" font-weight="bold" letter-spacing="1.5" text-anchor="middle" fill="#000">***</text>
<text x="933.3" y="1403.8" font-size="20.5" font-weight="bold" letter-spacing="1.5" text-anchor="middle" fill="#000">***</text>
<text x="961.3" y="1375.8" font-size="20.5" font-weight="bold" letter-spacing="1.5" text-anchor="middle" fill="#000">***</text>
<text x="989.3" y="1403.8" font-size="20.5" font-weight="bold" letter-spacing="1.5" text-anchor="middle" fill="#000">***</text>
<polygon points="790.0,1412.6 800.5,1423.1 790.0,1433.6 779.5,1423.1" fill="#d9655c"/>
<polygon points="846.4,1412.6 856.9,1423.1 846.4,1433.6 835.9,1423.1" fill="#5c9abc"/>
<polygon points="902.7,1412.6 913.2,1423.1 902.7,1433.6 892.2,1423.1" fill="#66b27b"/>
<polygon points="959.0,1412.6 969.5,1423.1 959.0,1433.6 948.5,1423.1" fill="#8887b5"/>
<polygon points="1015.4,1412.6 1025.9,1423.1 1015.4,1433.6 1004.9,1423.1" fill="#e8b766"/>
<text x="902.8" y="1463.4" font-size="21.3" text-anchor="middle" font-style="italic" fill="#222">Corynebacterium</text>
<polygon points="216.10,1589.38 244.12,1617.40 216.10,1645.42 188.08,1617.40" fill="#ffffff" stroke="#505052" stroke-width="1.9"/>
<polygon points="244.12,1561.36 272.14,1589.38 244.12,1617.40 216.10,1589.38" fill="#2b6cb3" stroke="#505052" stroke-width="1.9"/>
<polygon points="272.14,1533.34 300.16,1561.36 272.14,1589.38 244.12,1561.36" fill="#2b6cb3" stroke="#505052" stroke-width="1.9"/>
<polygon points="300.16,1505.32 328.18,1533.34 300.16,1561.36 272.14,1533.34" fill="#2b6cb3" stroke="#505052" stroke-width="1.9"/>
<polygon points="272.14,1589.38 300.16,1617.40 272.14,1645.42 244.12,1617.40" fill="#2b6cb3" stroke="#505052" stroke-width="1.9"/>
<polygon points="300.16,1561.36 328.18,1589.38 300.16,1617.40 272.14,1589.38" fill="#2b6cb3" stroke="#505052" stroke-width="1.9"/>
<polygon points="328.18,1533.34 356.20,1561.36 328.18,1589.38 300.16,1561.36" fill="#2b6cb3" stroke="#505052" stroke-width="1.9"/>
<polygon points="328.18,1589.38 356.20,1617.40 328.18,1645.42 300.16,1617.40" fill="#ffffff" stroke="#505052" stroke-width="1.9"/>
<polygon points="356.20,1561.36 384.22,1589.38 356.20,1617.40 328.18,1589.38" fill="#2b6cb3" stroke="#505052" stroke-width="1.9"/>
<polygon points="384.22,1589.38 412.24,1617.40 384.22,1645.42 356.20,1617.40" fill="#2b6cb3" stroke="#505052" stroke-width="1.9"/>
<polygon points="271.08,1531.57 298.39,1504.26 413.30,1619.17 385.99,1646.48" fill="none" stroke="#f5b335" stroke-width="8.4" stroke-linejoin="miter"/>
<text x="244.7" y="1600.5" font-size="20.5" font-weight="bold" letter-spacing="1.5" text-anchor="middle" fill="#000">***</text>
<text x="272.7" y="1572.5" font-size="20.5" font-weight="bold" letter-spacing="1.5" text-anchor="middle" fill="#000">***</text>
<text x="300.8" y="1544.4" font-size="20.5" font-weight="bold" letter-spacing="1.5" text-anchor="middle" fill="#000">***</text>
<text x="272.7" y="1628.5" font-size="20.5" font-weight="bold" letter-spacing="1.5" text-anchor="middle" fill="#000">***</text>
<text x="300.8" y="1600.5" font-size="20.5" font-weight="bold" letter-spacing="1.5" text-anchor="middle" fill="#000">***</text>
<text x="328.8" y="1572.5" font-size="20.5" font-weight="bold" letter-spacing="1.5" text-anchor="middle" fill="#000">***</text>
<text x="356.8" y="1600.5" font-size="20.5" font-weight="bold" letter-spacing="1.5" text-anchor="middle" fill="#000">***</text>
<text x="384.8" y="1628.5" font-size="20.5" font-weight="bold" letter-spacing="1.5" text-anchor="middle" fill="#000">***</text>
<polygon points="185.5,1634.0 196.0,1644.5 185.5,1655.0 175.0,1644.5" fill="#d9655c"/>
<polygon points="241.8,1634.0 252.3,1644.5 241.8,1655.0 231.3,1644.5" fill="#5c9abc"/>
<polygon points="298.2,1634.0 308.7,1644.5 298.2,1655.0 287.7,1644.5" fill="#66b27b"/>
<polygon points="354.6,1634.0 365.1,1644.5 354.6,1655.0 344.1,1644.5" fill="#8887b5"/>
<polygon points="410.9,1634.0 421.4,1644.5 410.9,1655.0 400.4,1644.5" fill="#e8b766"/>
<text x="298.3" y="1684.8" font-size="21.3" text-anchor="middle" font-style="italic" fill="#222">Stenotrophomonas</text>
<polygon points="507.00,1589.38 535.02,1617.40 507.00,1645.42 478.98,1617.40" fill="#4e88c7" stroke="#505052" stroke-width="1.9"/>
<polygon points="535.02,1561.36 563.04,1589.38 535.02,1617.40 507.00,1589.38" fill="#4e88c7" stroke="#505052" stroke-width="1.9"/>
<polygon points="563.04,1533.34 591.06,1561.36 563.04,1589.38 535.02,1561.36" fill="#2b6cb3" stroke="#505052" stroke-width="1.9"/>
<polygon points="591.06,1505.32 619.08,1533.34 591.06,1561.36 563.04,1533.34" fill="#3a79bd" stroke="#505052" stroke-width="1.9"/>
<polygon points="563.04,1589.38 591.06,1617.40 563.04,1645.42 535.02,1617.40" fill="#ffffff" stroke="#505052" stroke-width="1.9"/>
<polygon points="591.06,1561.36 619.08,1589.38 591.06,1617.40 563.04,1589.38" fill="#2b6cb3" stroke="#505052" stroke-width="1.9"/>
<polygon points="619.08,1533.34 647.10,1561.36 619.08,1589.38 591.06,1561.36" fill="#ffffff" stroke="#505052" stroke-width="1.9"/>
<polygon points="619.08,1589.38 647.10,1617.40 619.08,1645.42 591.06,1617.40" fill="#2b6cb3" stroke="#505052" stroke-width="1.9"/>
<polygon points="647.10,1561.36 675.12,1589.38 647.10,1617.40 619.08,1589.38" fill="#4e88c7" stroke="#505052" stroke-width="1.9"/>
<polygon points="675.12,1589.38 703.14,1617.40 675.12,1645.42 647.10,1617.40" fill="#b1282e" stroke="#505052" stroke-width="1.9"/>
<polygon points="535.02,1560.65 562.33,1533.34 647.10,1618.11 619.79,1645.42" fill="none" stroke="#f5b335" stroke-width="8.4" stroke-linejoin="miter"/>
<polygon points="647.81,1617.40 675.12,1590.09 702.43,1617.40 675.12,1644.71" fill="none" stroke="#f5b335" stroke-width="8.4" stroke-linejoin="miter"/>
<text x="507.6" y="1628.5" font-size="20.5" font-weight="bold" letter-spacing="1.5" text-anchor="middle" fill="#000">*</text>
<text x="535.6" y="1600.5" font-size="20.5" font-weight="bold" letter-spacing="1.5" text-anchor="middle" fill="#000">*</text>
<text x="563.6" y="1572.5" font-size="20.5" font-weight="bold" letter-spacing="1.5" text-anchor="middle" fill="#000">***</text>
<text x="591.7" y="1544.4" font-size="20.5" font-weight="bold" letter-spacing="1.5" text-anchor="middle" fill="#000">**</text>
<text x="591.7" y="1600.5" font-size="20.5" font-weight="bold" letter-spacing="1.5" text-anchor="middle" fill="#000">***</text>
<text x="619.7" y="1628.5" font-size="20.5" font-weight="bold" letter-spacing="1.5" text-anchor="middle" fill="#000">***</text>
<text x="647.7" y="1600.5" font-size="20.5" font-weight="bold" letter-spacing="1.5" text-anchor="middle" fill="#000">*</text>
<text x="675.7" y="1628.5" font-size="20.5" font-weight="bold" letter-spacing="1.5" text-anchor="middle" fill="#000">***</text>
<polygon points="476.4,1634.0 486.9,1644.5 476.4,1655.0 465.9,1644.5" fill="#d9655c"/>
<polygon points="532.8,1634.0 543.2,1644.5 532.8,1655.0 522.2,1644.5" fill="#5c9abc"/>
<polygon points="589.1,1634.0 599.6,1644.5 589.1,1655.0 578.6,1644.5" fill="#66b27b"/>
<polygon points="645.5,1634.0 656.0,1644.5 645.5,1655.0 635.0,1644.5" fill="#8887b5"/>
<polygon points="701.8,1634.0 712.3,1644.5 701.8,1655.0 691.3,1644.5" fill="#e8b766"/>
<text x="589.2" y="1684.8" font-size="21.3" text-anchor="middle" font-style="italic" fill="#222">Francisella</text>
<polygon points="820.60,1589.38 848.62,1617.40 820.60,1645.42 792.58,1617.40" fill="#ffffff" stroke="#505052" stroke-width="1.9"/>
<polygon points="848.62,1561.36 876.64,1589.38 848.62,1617.40 820.60,1589.38" fill="#4e88c7" stroke="#505052" stroke-width="1.9"/>
<polygon points="876.64,1533.34 904.66,1561.36 876.64,1589.38 848.62,1561.36" fill="#2b6cb3" stroke="#505052" stroke-width="1.9"/>
<polygon points="904.66,1505.32 932.68,1533.34 904.66,1561.36 876.64,1533.34" fill="#2b6cb3" stroke="#505052" stroke-width="1.9"/>
<polygon points="876.64,1589.38 904.66,1617.40 876.64,1645.42 848.62,1617.40" fill="#3a79bd" stroke="#505052" stroke-width="1.9"/>
<polygon points="904.66,1561.36 932.68,1589.38 904.66,1617.40 876.64,1589.38" fill="#2b6cb3" stroke="#505052" stroke-width="1.9"/>
<polygon points="932.68,1533.34 960.70,1561.36 932.68,1589.38 904.66,1561.36" fill="#2b6cb3" stroke="#505052" stroke-width="1.9"/>
<polygon points="932.68,1589.38 960.70,1617.40 932.68,1645.42 904.66,1617.40" fill="#4e88c7" stroke="#505052" stroke-width="1.9"/>
<polygon points="960.70,1561.36 988.72,1589.38 960.70,1617.40 932.68,1589.38" fill="#2b6cb3" stroke="#505052" stroke-width="1.9"/>
<polygon points="988.72,1589.38 1016.74,1617.40 988.72,1645.42 960.70,1617.40" fill="#2b6cb3" stroke="#505052" stroke-width="1.9"/>
<polygon points="875.58,1531.57 902.89,1504.26 1017.80,1619.17 990.49,1646.48" fill="none" stroke="#f5b335" stroke-width="8.4" stroke-linejoin="miter"/>
<text x="849.2" y="1600.5" font-size="20.5" font-weight="bold" letter-spacing="1.5" text-anchor="middle" fill="#000">*</text>
<text x="877.2" y="1572.5" font-size="20.5" font-weight="bold" letter-spacing="1.5" text-anchor="middle" fill="#000">***</text>
<text x="905.3" y="1544.4" font-size="20.5" font-weight="bold" letter-spacing="1.5" text-anchor="middle" fill="#000">***</text>
<text x="877.2" y="1628.5" font-size="20.5" font-weight="bold" letter-spacing="1.5" text-anchor="middle" fill="#000">**</text>
<text x="905.3" y="1600.5" font-size="20.5" font-weight="bold" letter-spacing="1.5" text-anchor="middle" fill="#000">***</text>
<text x="933.3" y="1572.5" font-size="20.5" font-weight="bold" letter-spacing="1.5" text-anchor="middle" fill="#000">***</text>
<text x="933.3" y="1628.5" font-size="20.5" font-weight="bold" letter-spacing="1.5" text-anchor="middle" fill="#000">*</text>
<text x="961.3" y="1600.5" font-size="20.5" font-weight="bold" letter-spacing="1.5" text-anchor="middle" fill="#000">***</text>
<polygon points="790.0,1634.0 800.5,1644.5 790.0,1655.0 779.5,1644.5" fill="#d9655c"/>
<polygon points="846.4,1634.0 856.9,1644.5 846.4,1655.0 835.9,1644.5" fill="#5c9abc"/>
<polygon points="902.7,1634.0 913.2,1644.5 902.7,1655.0 892.2,1644.5" fill="#66b27b"/>
<polygon points="959.0,1634.0 969.5,1644.5 959.0,1655.0 948.5,1644.5" fill="#8887b5"/>
<polygon points="1015.4,1634.0 1025.9,1644.5 1015.4,1655.0 1004.9,1644.5" fill="#e8b766"/>
<text x="902.8" y="1684.8" font-size="21.3" text-anchor="middle" font-style="italic" fill="#222">Serratia</text>
<text x="1.5" y="1066.8" font-size="37" font-weight="bold" fill="#231f20">b</text>
<rect x="1358.7" y="1" width="359.8" height="1416.4" fill="#fff" stroke="#222" stroke-width="1.6"/>
<text x="1333.7" y="47.1" font-size="21.4" text-anchor="end" font-style="italic" fill="#222">Rickettsia</text>
<circle cx="1398.2" cy="40.7" r="32.9" fill="#eeeff1" stroke="#1c1f2a" stroke-width="1.3"/>
<circle cx="1468.4" cy="40.7" r="11.8" fill="#b4bece" stroke="#1c1f2a" stroke-width="1.3"/>
<circle cx="1538.4" cy="40.7" r="6.6" fill="#b4bfd0" stroke="#1c1f2a" stroke-width="1.3"/>
<circle cx="1608.6" cy="40.7" r="7.1" fill="#98a5ba" stroke="#1c1f2a" stroke-width="1.3"/>
<circle cx="1678.8" cy="40.7" r="6.9" fill="#a0adc2" stroke="#1c1f2a" stroke-width="1.3"/>
<text x="1333.7" y="117.4" font-size="21.4" text-anchor="end" font-style="italic" fill="#222">Staphylococcus</text>
<circle cx="1398.2" cy="111.1" r="6.6" fill="#98a5bc" stroke="#1c1f2a" stroke-width="1.3"/>
<circle cx="1468.4" cy="111.1" r="29.4" fill="#eeeff1" stroke="#1c1f2a" stroke-width="1.3"/>
<circle cx="1538.4" cy="111.1" r="7.9" fill="#c0c9d5" stroke="#1c1f2a" stroke-width="1.3"/>
<circle cx="1608.6" cy="111.1" r="14.4" fill="#d0d5de" stroke="#1c1f2a" stroke-width="1.3"/>
<circle cx="1678.8" cy="111.1" r="9.9" fill="#bcc5d3" stroke="#1c1f2a" stroke-width="1.3"/>
<text x="1333.7" y="187.8" font-size="21.4" text-anchor="end" font-style="italic" fill="#222">Pseudomonas</text>
<circle cx="1398.2" cy="181.5" r="9.8" fill="#a8b3c6" stroke="#1c1f2a" stroke-width="1.3"/>
<circle cx="1468.4" cy="181.5" r="8.5" fill="#b0bbcc" stroke="#1c1f2a" stroke-width="1.3"/>
<circle cx="1538.4" cy="181.5" r="28.7" fill="#eeeff1" stroke="#1c1f2a" stroke-width="1.3"/>
<circle cx="1608.6" cy="181.5" r="8.5" fill="#b8c1d0" stroke="#1c1f2a" stroke-width="1.3"/>
<circle cx="1678.8" cy="181.5" r="11.3" fill="#c8cfda" stroke="#1c1f2a" stroke-width="1.3"/>
<text x="1333.7" y="258.1" font-size="21.4" text-anchor="end" font-style="italic" fill="#222">Acinetobacter</text>
<circle cx="1398.2" cy="251.9" r="6.1" fill="#9aa7bd" stroke="#1c1f2a" stroke-width="1.3"/>
<circle cx="1468.4" cy="251.9" r="7.1" fill="#98a6bc" stroke="#1c1f2a" stroke-width="1.3"/>
<circle cx="1538.4" cy="251.9" r="7.8" fill="#b8c2d1" stroke="#1c1f2a" stroke-width="1.3"/>
<circle cx="1608.6" cy="251.9" r="6.4" fill="#bcc6d4" stroke="#1c1f2a" stroke-width="1.3"/>
<circle cx="1678.8" cy="251.9" r="12.7" fill="#bcc5d3" stroke="#1c1f2a" stroke-width="1.3"/>
<text x="1333.7" y="328.4" font-size="21.4" text-anchor="end" font-style="italic" fill="#222">Brevibacterium</text>
<circle cx="1398.2" cy="322.3" r="3.5" fill="#909cb4" stroke="#1c1f2a" stroke-width="1.3"/>
<circle cx="1468.4" cy="322.3" r="6.2" fill="#b8c2d1" stroke="#1c1f2a" stroke-width="1.3"/>
<circle cx="1538.4" cy="322.3" r="5.5" fill="#9aa6bb" stroke="#1c1f2a" stroke-width="1.3"/>
<circle cx="1608.6" cy="322.3" r="16.8" fill="#ccd2dc" stroke="#1c1f2a" stroke-width="1.3"/>
<circle cx="1678.8" cy="322.3" r="4.9" fill="#9ca8bc" stroke="#1c1f2a" stroke-width="1.3"/>
<text x="1333.7" y="398.8" font-size="21.4" text-anchor="end" font-style="italic" fill="#222">Corynebacterium</text>
<circle cx="1398.2" cy="392.6" r="4.3" fill="#8e9bb3" stroke="#1c1f2a" stroke-width="1.3"/>
<circle cx="1468.4" cy="392.6" r="5.6" fill="#b4bece" stroke="#1c1f2a" stroke-width="1.3"/>
<circle cx="1538.4" cy="392.6" r="4.7" fill="#b0bbcb" stroke="#1c1f2a" stroke-width="1.3"/>
<circle cx="1608.6" cy="392.6" r="7.1" fill="#c4ccd7" stroke="#1c1f2a" stroke-width="1.3"/>
<circle cx="1678.8" cy="392.6" r="9.4" fill="#a8b3c5" stroke="#1c1f2a" stroke-width="1.3"/>
<text x="1333.7" y="469.1" font-size="21.4" text-anchor="end" font-style="italic" fill="#222">Stenotrophomonas</text>
<circle cx="1398.2" cy="463.0" r="3.5" fill="#7e8ba6" stroke="#1c1f2a" stroke-width="1.3"/>
<circle cx="1468.4" cy="463.0" r="3.6" fill="#4e5c7e" stroke="#1c1f2a" stroke-width="1.3"/>
<circle cx="1538.4" cy="463.0" r="6.2" fill="#c4ccd7" stroke="#1c1f2a" stroke-width="1.3"/>
<circle cx="1608.6" cy="463.0" r="5.8" fill="#a6b2c5" stroke="#1c1f2a" stroke-width="1.3"/>
<circle cx="1678.8" cy="463.0" r="9.0" fill="#98a4b9" stroke="#1c1f2a" stroke-width="1.3"/>
<text x="1333.7" y="539.4" font-size="21.4" text-anchor="end" font-style="italic" fill="#222">Francisella</text>
<circle cx="1468.4" cy="533.4" r="2.5" fill="#2d3a5a" stroke="#1c1f2a" stroke-width="1.3"/>
<circle cx="1538.4" cy="533.4" r="1.2" fill="#222c48" stroke="#1c1f2a" stroke-width="1.0"/>
<circle cx="1608.6" cy="533.4" r="13.7" fill="#8f9cb3" stroke="#1c1f2a" stroke-width="1.3"/>
<circle cx="1678.8" cy="533.4" r="2.6" fill="#2d3a5c" stroke="#1c1f2a" stroke-width="1.3"/>
<text x="1333.7" y="609.7" font-size="21.4" text-anchor="end" font-style="italic" fill="#222">Serratia</text>
<circle cx="1398.2" cy="603.8" r="1.8" fill="#222c48" stroke="#1c1f2a" stroke-width="1.0"/>
<circle cx="1468.4" cy="603.8" r="1.1" fill="#222c48" stroke="#1c1f2a" stroke-width="1.0"/>
<circle cx="1538.4" cy="603.8" r="2.9" fill="#5f6d8c" stroke="#1c1f2a" stroke-width="1.3"/>
<circle cx="1608.6" cy="603.8" r="4.0" fill="#5a6a8d" stroke="#1c1f2a" stroke-width="1.3"/>
<circle cx="1678.8" cy="603.8" r="9.2" fill="#7482a2" stroke="#1c1f2a" stroke-width="1.3"/>
<text x="1333.7" y="680.1" font-size="21.4" text-anchor="end" font-style="italic" fill="#222">Bacillus</text>
<circle cx="1398.2" cy="674.2" r="2.5" fill="#3e4b6b" stroke="#1c1f2a" stroke-width="1.3"/>
<circle cx="1468.4" cy="674.2" r="5.6" fill="#9ba8be" stroke="#1c1f2a" stroke-width="1.3"/>
<circle cx="1538.4" cy="674.2" r="6.1" fill="#929fb8" stroke="#1c1f2a" stroke-width="1.3"/>
<circle cx="1608.6" cy="674.2" r="3.8" fill="#8693ae" stroke="#1c1f2a" stroke-width="1.3"/>
<circle cx="1678.8" cy="674.2" r="7.3" fill="#6a7999" stroke="#1c1f2a" stroke-width="1.3"/>
<text x="1333.7" y="750.4" font-size="21.4" text-anchor="end" font-style="italic" fill="#222">Enterobacter</text>
<circle cx="1398.2" cy="744.6" r="1.9" fill="#2a3655" stroke="#1c1f2a" stroke-width="1.0"/>
<circle cx="1468.4" cy="744.6" r="3.0" fill="#7a88a2" stroke="#1c1f2a" stroke-width="1.3"/>
<circle cx="1538.4" cy="744.6" r="4.5" fill="#7583a0" stroke="#1c1f2a" stroke-width="1.3"/>
<circle cx="1608.6" cy="744.6" r="4.5" fill="#7b89a6" stroke="#1c1f2a" stroke-width="1.3"/>
<circle cx="1678.8" cy="744.6" r="7.8" fill="#8492ae" stroke="#1c1f2a" stroke-width="1.3"/>
<text x="1333.7" y="820.7" font-size="21.4" text-anchor="end" font-style="italic" fill="#222">Clostridium</text>
<circle cx="1398.2" cy="815.0" r="3.5" fill="#46557a" stroke="#1c1f2a" stroke-width="1.3"/>
<circle cx="1468.4" cy="815.0" r="4.0" fill="#6c7b9a" stroke="#1c1f2a" stroke-width="1.3"/>
<circle cx="1538.4" cy="815.0" r="2.6" fill="#55627f" stroke="#1c1f2a" stroke-width="1.3"/>
<circle cx="1608.6" cy="815.0" r="1.2" fill="#222c48" stroke="#1c1f2a" stroke-width="1.0"/>
<circle cx="1678.8" cy="815.0" r="7.8" fill="#5e6f95" stroke="#1c1f2a" stroke-width="1.3"/>
<text x="1333.7" y="891.1" font-size="21.4" text-anchor="end" font-style="italic" fill="#222">Pantoea</text>
<circle cx="1398.2" cy="885.4" r="3.3" fill="#4a587a" stroke="#1c1f2a" stroke-width="1.3"/>
<circle cx="1468.4" cy="885.4" r="4.9" fill="#929fb6" stroke="#1c1f2a" stroke-width="1.3"/>
<circle cx="1538.4" cy="885.4" r="5.9" fill="#aab5c6" stroke="#1c1f2a" stroke-width="1.3"/>
<circle cx="1608.6" cy="885.4" r="3.5" fill="#5a6888" stroke="#1c1f2a" stroke-width="1.3"/>
<circle cx="1678.8" cy="885.4" r="6.1" fill="#8a96b0" stroke="#1c1f2a" stroke-width="1.3"/>
<text x="1333.7" y="961.4" font-size="21.4" text-anchor="end" font-style="italic" fill="#222">Rhodococcus</text>
<circle cx="1398.2" cy="955.8" r="4.5" fill="#7f8ca8" stroke="#1c1f2a" stroke-width="1.3"/>
<circle cx="1468.4" cy="955.8" r="2.6" fill="#505d7c" stroke="#1c1f2a" stroke-width="1.3"/>
<circle cx="1538.4" cy="955.8" r="4.9" fill="#a6b1c4" stroke="#1c1f2a" stroke-width="1.3"/>
<circle cx="1608.6" cy="955.8" r="3.0" fill="#8390a9" stroke="#1c1f2a" stroke-width="1.3"/>
<circle cx="1678.8" cy="955.8" r="6.1" fill="#7d8aa6" stroke="#1c1f2a" stroke-width="1.3"/>
<text x="1333.7" y="1031.7" font-size="21.4" text-anchor="end" font-style="italic" fill="#222">Methylobacterium</text>
<circle cx="1398.2" cy="1026.2" r="2.6" fill="#6d7b99" stroke="#1c1f2a" stroke-width="1.3"/>
<circle cx="1468.4" cy="1026.2" r="1.2" fill="#222c48" stroke="#1c1f2a" stroke-width="1.0"/>
<circle cx="1538.4" cy="1026.2" r="3.0" fill="#44527a" stroke="#1c1f2a" stroke-width="1.3"/>
<circle cx="1608.6" cy="1026.2" r="1.5" fill="#222c48" stroke="#1c1f2a" stroke-width="1.0"/>
<circle cx="1678.8" cy="1026.2" r="7.1" fill="#8996b0" stroke="#1c1f2a" stroke-width="1.3"/>
<text x="1333.7" y="1102.0" font-size="21.4" text-anchor="end" font-style="italic" fill="#222">Alcaligenes</text>
<circle cx="1398.2" cy="1096.5" r="2.2" fill="#4d5a78" stroke="#1c1f2a" stroke-width="1.0"/>
<circle cx="1468.4" cy="1096.5" r="1.2" fill="#222c48" stroke="#1c1f2a" stroke-width="1.0"/>
<circle cx="1538.4" cy="1096.5" r="5.2" fill="#8794b0" stroke="#1c1f2a" stroke-width="1.3"/>
<circle cx="1608.6" cy="1096.5" r="8.7" fill="#939fb7" stroke="#1c1f2a" stroke-width="1.3"/>
<circle cx="1678.8" cy="1096.5" r="3.0" fill="#45547a" stroke="#1c1f2a" stroke-width="1.3"/>
<text x="1333.7" y="1172.4" font-size="21.4" text-anchor="end" font-style="italic" fill="#222">Glutamicibacter</text>
<circle cx="1398.2" cy="1166.9" r="2.5" fill="#2a3553" stroke="#1c1f2a" stroke-width="1.3"/>
<circle cx="1468.4" cy="1166.9" r="2.6" fill="#46526e" stroke="#1c1f2a" stroke-width="1.3"/>
<circle cx="1538.4" cy="1166.9" r="3.0" fill="#7a88a3" stroke="#1c1f2a" stroke-width="1.3"/>
<circle cx="1608.6" cy="1166.9" r="6.1" fill="#a4afc3" stroke="#1c1f2a" stroke-width="1.3"/>
<circle cx="1678.8" cy="1166.9" r="4.0" fill="#7f8ca7" stroke="#1c1f2a" stroke-width="1.3"/>
<text x="1333.7" y="1242.7" font-size="21.4" text-anchor="end" font-style="italic" fill="#222">Klebsiella</text>
<circle cx="1468.4" cy="1237.3" r="2.0" fill="#222c48" stroke="#1c1f2a" stroke-width="1.0"/>
<circle cx="1538.4" cy="1237.3" r="2.0" fill="#222c48" stroke="#1c1f2a" stroke-width="1.0"/>
<circle cx="1608.6" cy="1237.3" r="6.6" fill="#4f618a" stroke="#1c1f2a" stroke-width="1.3"/>
<circle cx="1678.8" cy="1237.3" r="3.0" fill="#8e9ab3" stroke="#1c1f2a" stroke-width="1.3"/>
<text x="1333.7" y="1313.0" font-size="21.4" text-anchor="end" font-style="italic" fill="#222">Delftia</text>
<circle cx="1398.2" cy="1307.7" r="1.5" fill="#222c48" stroke="#1c1f2a" stroke-width="1.0"/>
<circle cx="1538.4" cy="1307.7" r="6.6" fill="#7282a3" stroke="#1c1f2a" stroke-width="1.3"/>
<circle cx="1608.6" cy="1307.7" r="2.8" fill="#66749a" stroke="#1c1f2a" stroke-width="1.3"/>
<circle cx="1678.8" cy="1307.7" r="2.8" fill="#4a587c" stroke="#1c1f2a" stroke-width="1.3"/>
<text x="1333.7" y="1383.4" font-size="21.4" text-anchor="end" font-style="italic" fill="#222">Anaplasma</text>
<circle cx="1398.2" cy="1378.1" r="2.2" fill="#27324f" stroke="#1c1f2a" stroke-width="1.0"/>
<circle cx="1468.4" cy="1378.1" r="7.3" fill="#6b7a9c" stroke="#1c1f2a" stroke-width="1.3"/>
<circle cx="1538.4" cy="1378.1" r="1.5" fill="#222c48" stroke="#1c1f2a" stroke-width="1.0"/>
<circle cx="1608.6" cy="1378.1" r="2.5" fill="#222c48" stroke="#1c1f2a" stroke-width="1.3"/>
<circle cx="1678.8" cy="1378.1" r="1.1" fill="#222c48" stroke="#1c1f2a" stroke-width="1.0"/>
<text x="1384.4" y="1443.8" font-size="21" fill="#222">ET<tspan dx="0.8" dy="7.2" font-size="12.5">1</tspan></text>
<text x="1454.6" y="1443.8" font-size="21" fill="#222">ET<tspan dx="0.8" dy="7.2" font-size="12.5">2</tspan></text>
<text x="1524.6" y="1443.8" font-size="21" fill="#222">ET<tspan dx="0.8" dy="7.2" font-size="12.5">3</tspan></text>
<text x="1594.8" y="1443.8" font-size="21" fill="#222">ET<tspan dx="0.8" dy="7.2" font-size="12.5">4</tspan></text>
<text x="1665.0" y="1443.8" font-size="21" fill="#222">ET<tspan dx="0.8" dy="7.2" font-size="12.5">5</tspan></text>
<text x="1306.5" y="1507.1" font-size="21.5" text-anchor="middle" font-weight="bold" fill="#222">Average relative</text>
<text x="1306.5" y="1532.7" font-size="21.5" text-anchor="middle" font-weight="bold" fill="#222">abundance</text>
<text x="1604.0" y="1507.1" font-size="21.5" text-anchor="middle" font-weight="bold" fill="#222">Coefficient of</text>
<text x="1604.0" y="1532.7" font-size="21.5" text-anchor="middle" font-weight="bold" fill="#222">variation</text>
<path d="M1208.7 1576.6L1381.3 1552.2M1208.7 1601.8L1381.3 1626.2" stroke="#000" stroke-width="2.1" stroke-dasharray="10.5 6.5" fill="none"/>
<circle cx="1208.7" cy="1589.2" r="11.6" fill="#fff" stroke="#000" stroke-width="2.2"/>
<text x="1208.0" y="1632.0" font-size="21" text-anchor="middle" fill="#222">10%</text>
<circle cx="1291.6" cy="1589.2" r="23.8" fill="#fff" stroke="#000" stroke-width="2.2"/>
<text x="1288.0" y="1642.7" font-size="21" text-anchor="middle" fill="#222">40%</text>
<circle cx="1381.3" cy="1589.2" r="36.0" fill="#fff" stroke="#000" stroke-width="2.2"/>
<text x="1379.8" y="1655.7" font-size="21" text-anchor="middle" fill="#222">90%</text>
<defs><linearGradient id="cv" x1="0" x2="1" y1="0" y2="0"><stop offset="0" stop-color="#dfe2e8"/><stop offset="0.5" stop-color="#8995ae"/><stop offset="1" stop-color="#2c3b60"/></linearGradient></defs>
<rect x="1495.6" y="1573.3" width="214.6" height="27" fill="url(#cv)" stroke="#1d2438" stroke-width="1.8"/>
<text x="1495.0" y="1632.0" font-size="21" text-anchor="middle" fill="#222">0.0</text>
<text x="1603.0" y="1632.0" font-size="21" text-anchor="middle" fill="#222">2.5</text>
<text x="1686.6" y="1632.0" font-size="21" fill="#222">&gt;5.0</text>
<text x="1091.5" y="38.7" font-size="37" font-weight="bold" fill="#231f20">c</text>
<rect x="115.1" y="1785.7" width="57.6" height="53.7" fill="#bcdcc0"/>
<rect x="172.3" y="1785.7" width="57.6" height="53.7" fill="#bcdcc0"/>
<rect x="229.5" y="1785.7" width="57.6" height="53.7" fill="#d2e6d4"/>
<rect x="286.7" y="1785.7" width="57.6" height="53.7" fill="#9bcba0"/>
<rect x="343.9" y="1785.7" width="57.6" height="53.7" fill="#9bcba0"/>
<text x="426.0" y="1824.4" font-size="21.3" fill="#1a1a1a">Region</text>
<rect x="115.1" y="1839.0" width="57.6" height="53.7" fill="#d2e6d4"/>
<rect x="172.3" y="1839.0" width="57.6" height="53.7" fill="#d2e6d4"/>
<rect x="229.5" y="1839.0" width="57.6" height="53.7" fill="#bcdcc0"/>
<rect x="286.7" y="1839.0" width="57.6" height="53.7" fill="#a8d2ad"/>
<rect x="343.9" y="1839.0" width="57.6" height="53.7" fill="#a8d2ad"/>
<text x="426.0" y="1877.7" font-size="21.3" fill="#1a1a1a">Host</text>
<rect x="115.1" y="1892.3" width="57.6" height="53.7" fill="#a8d2ad"/>
<rect x="172.3" y="1892.3" width="57.6" height="53.7" fill="#bcdcc0"/>
<rect x="229.5" y="1892.3" width="57.6" height="53.7" fill="#d2e6d4"/>
<rect x="286.7" y="1892.3" width="57.6" height="53.7" fill="#d2e6d4"/>
<rect x="343.9" y="1892.3" width="57.6" height="53.7" fill="#80be8f"/>
<text x="426.0" y="1931.0" font-size="21.3" fill="#1a1a1a">Tick genus</text>
<rect x="115.1" y="1945.6" width="57.6" height="53.7" fill="#80be8f"/>
<rect x="172.3" y="1945.6" width="57.6" height="53.7" fill="#80be8f"/>
<rect x="229.5" y="1945.6" width="57.6" height="53.7" fill="#9bcba0"/>
<rect x="286.7" y="1945.6" width="57.6" height="53.7" fill="#80be8f"/>
<rect x="343.9" y="1945.6" width="57.6" height="53.7" fill="#69ae7d"/>
<text x="426.0" y="1984.2" font-size="21.3" fill="#1a1a1a">Tick species</text>
<rect x="115.1" y="1998.9" width="57.6" height="53.7" fill="#e6ebe6"/>
<rect x="172.3" y="1998.9" width="57.6" height="53.7" fill="#d2e6d4"/>
<rect x="229.5" y="1998.9" width="57.6" height="53.7" fill="#e6ebe6"/>
<rect x="286.7" y="1998.9" width="57.6" height="53.7" fill="#bcdcc0"/>
<rect x="343.9" y="1998.9" width="57.6" height="53.7" fill="#bcdcc0"/>
<text x="426.0" y="2037.6" font-size="21.3" fill="#c6c7c8">RHmean</text>
<rect x="115.1" y="2052.2" width="57.6" height="53.7" fill="#e6ebe6"/>
<rect x="172.3" y="2052.2" width="57.6" height="53.7" fill="#ece6ee"/>
<rect x="229.5" y="2052.2" width="57.6" height="53.7" fill="#dcd0e4"/>
<rect x="286.7" y="2052.2" width="57.6" height="53.7" fill="#a8d2ad"/>
<rect x="343.9" y="2052.2" width="57.6" height="53.7" fill="#d2e6d4"/>
<text x="426.0" y="2090.8" font-size="21.3" fill="#c6c7c8">Prmax</text>
<rect x="115.1" y="2105.5" width="57.6" height="53.7" fill="#dcd0e4"/>
<rect x="172.3" y="2105.5" width="57.6" height="53.7" fill="#ece6ee"/>
<rect x="229.5" y="2105.5" width="57.6" height="53.7" fill="#ece6ee"/>
<rect x="286.7" y="2105.5" width="57.6" height="53.7" fill="#d2e6d4"/>
<rect x="343.9" y="2105.5" width="57.6" height="53.7" fill="#a8d2ad"/>
<text x="426.0" y="2144.2" font-size="21.3" fill="#c6c7c8">Prmean</text>
<rect x="115.1" y="2158.8" width="57.6" height="53.7" fill="#e6ebe6"/>
<rect x="172.3" y="2158.8" width="57.6" height="53.7" fill="#e6ebe6"/>
<rect x="229.5" y="2158.8" width="57.6" height="53.7" fill="#ece6ee"/>
<rect x="286.7" y="2158.8" width="57.6" height="53.7" fill="#ece6ee"/>
<rect x="343.9" y="2158.8" width="57.6" height="53.7" fill="#ece6ee"/>
<text x="426.0" y="2197.5" font-size="21.3" fill="#c6c7c8">Tmin</text>
<rect x="115.1" y="2212.1" width="57.6" height="53.7" fill="#ece6ee"/>
<rect x="172.3" y="2212.1" width="57.6" height="53.7" fill="#e6ebe6"/>
<rect x="229.5" y="2212.1" width="57.6" height="53.7" fill="#dcd0e4"/>
<rect x="286.7" y="2212.1" width="57.6" height="53.7" fill="#e6ebe6"/>
<rect x="343.9" y="2212.1" width="57.6" height="53.7" fill="#ece6ee"/>
<text x="426.0" y="2250.8" font-size="21.3" fill="#c6c7c8">Tmean</text>
<rect x="115.1" y="2265.4" width="57.6" height="53.7" fill="#e6ebe6"/>
<rect x="172.3" y="2265.4" width="57.6" height="53.7" fill="#ece6ee"/>
<rect x="229.5" y="2265.4" width="57.6" height="53.7" fill="#e6ebe6"/>
<rect x="286.7" y="2265.4" width="57.6" height="53.7" fill="#bfaed0"/>
<rect x="343.9" y="2265.4" width="57.6" height="53.7" fill="#d2e6d4"/>
<text x="426.0" y="2304.1" font-size="21.3" fill="#1a1a1a">Parasitism</text>
<rect x="115.1" y="2318.7" width="57.6" height="53.7" fill="#cdbfd8"/>
<rect x="172.3" y="2318.7" width="57.6" height="53.7" fill="#cdbfd8"/>
<rect x="229.5" y="2318.7" width="57.6" height="53.7" fill="#dcd0e4"/>
<rect x="286.7" y="2318.7" width="57.6" height="53.7" fill="#dcd0e4"/>
<rect x="343.9" y="2318.7" width="57.6" height="53.7" fill="#bfaed0"/>
<text x="426.0" y="2357.3" font-size="21.3" fill="#1a1a1a">Engorgement</text>
<rect x="115.1" y="2372.0" width="57.6" height="53.7" fill="#e8e2ec"/>
<rect x="172.3" y="2372.0" width="57.6" height="53.7" fill="#bfaed0"/>
<rect x="229.5" y="2372.0" width="57.6" height="53.7" fill="#b09bc4"/>
<rect x="286.7" y="2372.0" width="57.6" height="53.7" fill="#bfaed0"/>
<rect x="343.9" y="2372.0" width="57.6" height="53.7" fill="#dcd0e4"/>
<text x="426.0" y="2410.7" font-size="21.3" fill="#c6c7c8">ASD</text>
<rect x="115.1" y="2425.3" width="57.6" height="53.7" fill="#cdbfd8"/>
<rect x="172.3" y="2425.3" width="57.6" height="53.7" fill="#a085b7"/>
<rect x="229.5" y="2425.3" width="57.6" height="53.7" fill="#bfaed0"/>
<rect x="286.7" y="2425.3" width="57.6" height="53.7" fill="#bfaed0"/>
<rect x="343.9" y="2425.3" width="57.6" height="53.7" fill="#cdbfd8"/>
<text x="426.0" y="2464.0" font-size="21.3" fill="#c6c7c8">AWS</text>
<rect x="115.1" y="2478.6" width="57.6" height="53.7" fill="#bfaed0"/>
<rect x="172.3" y="2478.6" width="57.6" height="53.7" fill="#9172ae"/>
<rect x="229.5" y="2478.6" width="57.6" height="53.7" fill="#cdbfd8"/>
<rect x="286.7" y="2478.6" width="57.6" height="53.7" fill="#cdbfd8"/>
<rect x="343.9" y="2478.6" width="57.6" height="53.7" fill="#cdbfd8"/>
<text x="426.0" y="2517.2" font-size="21.3" fill="#c6c7c8">Tmax</text>
<rect x="115.1" y="2531.9" width="57.6" height="53.7" fill="#bfaed0"/>
<rect x="172.3" y="2531.9" width="57.6" height="53.7" fill="#8660a4"/>
<rect x="229.5" y="2531.9" width="57.6" height="53.7" fill="#8660a4"/>
<rect x="286.7" y="2531.9" width="57.6" height="53.7" fill="#b09bc4"/>
<rect x="343.9" y="2531.9" width="57.6" height="53.7" fill="#9172ae"/>
<text x="426.0" y="2570.6" font-size="21.3" fill="#1a1a1a">Gender</text>
<rect x="115.1" y="2585.2" width="57.6" height="53.7" fill="#a085b7"/>
<rect x="172.3" y="2585.2" width="57.6" height="53.7" fill="#6f3b8f"/>
<rect x="229.5" y="2585.2" width="57.6" height="53.7" fill="#9172ae"/>
<rect x="286.7" y="2585.2" width="57.6" height="53.7" fill="#6f3b8f"/>
<rect x="343.9" y="2585.2" width="57.6" height="53.7" fill="#9172ae"/>
<text x="426.0" y="2623.8" font-size="21.3" fill="#c6c7c8">AAP</text>
<path d="M186.6 1772.8V1730.8H344.1V1746.6M315.5 1785.7V1746.6H372.8V1785.7M143.4 1785.7V1772.8H229.8V1781.5M200.7 1785.7V1781.5H258.5V1785.7M115.1 1812.4H108.7V1865.6H115.1M108.7 1839.2H104.5V1919H115.1M104.5 1879.1H90.1V1972.5H115.1M115.1 2025.5H104.9V2078.8H115.1M104.9 2052.2H102.7V2132.1H115.1M115.1 2185.4H108.8V2238.7H115.1M102.7 2092H98.6V2212.2H108.8M98.6 2152.1H86.5V2292H115.1M115.1 2452H108.1V2505.3H115.1M115.1 2398.8H97.8V2478.8H108.1M115.1 2345.3H95.4V2439H97.8M86.5 2222.3H68.1V2391.7H95.4M90.1 1925.4H34.9V2306.8H68.1M115.1 2558.6H92V2612H115.1M34.9 2117H1.5V2585.2H92" fill="none" stroke="#000" stroke-width="1.9" stroke-linejoin="miter" stroke-linecap="square"/>
<g transform="translate(579.5 2025.2)"><clipPath id="dc1"><path d="M0 -13.0C3.07 -7.80 9.6 -2.40 9.6 3.4A9.6 9.6 0 0 1 -9.6 3.4C-9.6 -2.40 -3.07 -7.80 0 -13.0Z"/></clipPath><path d="M0 -13.0C3.07 -7.80 9.6 -2.40 9.6 3.4A9.6 9.6 0 0 1 -9.6 3.4C-9.6 -2.40 -3.07 -7.80 0 -13.0Z" fill="#fff"/><path d="M-11 2.2C-7 -3 -3 -2.6 0 2.2S7 7.2 11 3V15H-11Z" fill="#000" clip-path="url(#dc1)"/><path d="M0 -13.0C3.07 -7.80 9.6 -2.40 9.6 3.4A9.6 9.6 0 0 1 -9.6 3.4C-9.6 -2.40 -3.07 -7.80 0 -13.0Z" fill="none" stroke="#000" stroke-width="1.6"/></g>
<g transform="translate(544.9 2079.4) rotate(9)"><clipPath id="dc2"><path d="M0 -14.2C3.01 -9.00 9.4 -2.00 9.4 3.8A9.4 9.4 0 0 1 -9.4 3.8C-9.4 -2.00 -3.01 -9.00 0 -14.2Z"/></clipPath><path d="M0 -14.2C3.01 -9.00 9.4 -2.00 9.4 3.8A9.4 9.4 0 0 1 -9.4 3.8C-9.4 -2.00 -3.01 -9.00 0 -14.2Z" fill="#000"/><path d="M-8.2 1.5C-7.6 7.5 -2.6 11.6 5.6 11L5.5 14H-11Z" fill="#fff" clip-path="url(#dc2)"/><path d="M0 -14.2C3.01 -9.00 9.4 -2.00 9.4 3.8A9.4 9.4 0 0 1 -9.4 3.8C-9.4 -2.00 -3.01 -9.00 0 -14.2Z" fill="none" stroke="#000" stroke-width="1.5"/></g>
<g transform="translate(551.6 2067.3) rotate(20) scale(0.27)"><path d="M0 -13.6C3.26 -8.40 10.2 -2.40 10.2 3.4A10.2 10.2 0 0 1 -10.2 3.4C-10.2 -2.40 -3.26 -8.40 0 -13.6Z" fill="#fff" stroke="#000" stroke-width="4.6"/></g>
<g transform="translate(555.4 2071.2) rotate(20) scale(0.31)"><path d="M0 -13.6C3.26 -8.40 10.2 -2.40 10.2 3.4A10.2 10.2 0 0 1 -10.2 3.4C-10.2 -2.40 -3.26 -8.40 0 -13.6Z" fill="#fff" stroke="#000" stroke-width="4.2"/></g>
<g transform="translate(567 2134.9)"><clipPath id="dc3"><path d="M0 -14.3C3.07 -9.10 9.6 -2.50 9.6 3.3A9.6 9.6 0 0 1 -9.6 3.3C-9.6 -2.50 -3.07 -9.10 0 -14.3Z"/></clipPath><path d="M0 -14.3C3.07 -9.10 9.6 -2.50 9.6 3.3A9.6 9.6 0 0 1 -9.6 3.3C-9.6 -2.50 -3.07 -9.10 0 -14.3Z" fill="#fff"/><path d="M-9 -16L-7.7 -5.6C-5.6 2.6 1.5 8 11 7.8V-16Z" fill="#000" clip-path="url(#dc3)"/><path d="M0 -14.3C3.07 -9.10 9.6 -2.50 9.6 3.3A9.6 9.6 0 0 1 -9.6 3.3C-9.6 -2.50 -3.07 -9.10 0 -14.3Z" fill="none" stroke="#000" stroke-width="1.5"/></g>
<path d="M519.05 2185.53V2172.85A3.55 3.55 0 0 1 526.15 2172.85V2185.53A8.0 8.0 0 1 1 519.05 2185.53Z" fill="#fff" stroke="#000" stroke-width="1.5"/><path d="M528.0 2171.3h3.2M528.0 2173.9h3.2M528.0 2176.5h3.2M528.0 2179.1h3.2M528.0 2181.7h3.2" stroke="#000" stroke-width="1.3" fill="none"/><path d="M517.30 2192.70A5.3 5.3 0 0 0 527.90 2192.70Z" fill="#000"/>
<path d="M550.05 2237.33V2224.65A3.55 3.55 0 0 1 557.15 2224.65V2237.33A8.0 8.0 0 1 1 550.05 2237.33Z" fill="#fff" stroke="#000" stroke-width="1.5"/><path d="M559.0 2223.1h3.2M559.0 2225.7h3.2M559.0 2228.3h3.2M559.0 2230.9h3.2M559.0 2233.5h3.2" stroke="#000" stroke-width="1.3" fill="none"/><circle cx="553.6" cy="2244.5" r="5.3" fill="#000"/><rect x="552.10" y="2233.00" width="3" height="11.50" rx="1.2" fill="#000"/>
<path d="M533.25 2508.73V2496.05A3.55 3.55 0 0 1 540.35 2496.05V2508.73A8.0 8.0 0 1 1 533.25 2508.73Z" fill="#fff" stroke="#000" stroke-width="1.5"/><path d="M542.2 2494.5h3.2M542.2 2497.1h3.2M542.2 2499.7h3.2M542.2 2502.3h3.2M542.2 2504.9h3.2" stroke="#000" stroke-width="1.3" fill="none"/><circle cx="536.8" cy="2515.9" r="5.3" fill="#000"/><rect x="535.30" y="2495.70" width="3" height="20.20" rx="1.2" fill="#000"/>
<circle cx="523.0" cy="2398.6" r="4.9" fill="#000"/><path d="M529.60 2398.60L533.60 2398.60M528.72 2401.90L532.18 2403.90M526.30 2404.32L528.30 2407.78M523.00 2405.20L523.00 2412.90M519.70 2404.32L517.70 2407.78M517.28 2401.90L513.82 2403.90M516.40 2398.60L512.40 2398.60M517.28 2395.30L513.82 2393.30M519.70 2392.88L517.70 2389.42M523.00 2392.00L523.00 2384.30M526.30 2392.88L528.30 2389.42M528.72 2395.30L532.18 2393.30" stroke="#000" stroke-width="1.25" fill="none"/>
<g transform="translate(527.8 2449.6)"><path d="M0 0L9 -9.3Q13.6 -1.6 4.7 3.3Z" transform="rotate(0)" fill="#000" stroke="#fff" stroke-width="0.55" stroke-linejoin="round"/><path d="M0 0L9 -9.3Q13.6 -1.6 4.7 3.3Z" transform="rotate(90)" fill="#000" stroke="#fff" stroke-width="0.55" stroke-linejoin="round"/><path d="M0 0L9 -9.3Q13.6 -1.6 4.7 3.3Z" transform="rotate(180)" fill="#000" stroke="#fff" stroke-width="0.55" stroke-linejoin="round"/><path d="M0 0L9 -9.3Q13.6 -1.6 4.7 3.3Z" transform="rotate(270)" fill="#000" stroke="#fff" stroke-width="0.55" stroke-linejoin="round"/></g>
<path d="M526.5 2454.4L524.2 2464.7" stroke="#000" stroke-width="2.9"/>
<path d="M508.20000000000005 2614.8V2609.2A10.9 10.9 0 0 1 530.0 2609.2V2614.8Z" fill="#000"/>
<rect x="516.95" y="2614.8" width="4.3" height="11" fill="#000"/>
<path d="M513.30 2610.20L510.90 2610.20M514.08 2607.30L512.00 2606.10M516.20 2605.18L515.00 2603.10M519.10 2604.40L519.10 2602.00M522.00 2605.18L523.20 2603.10M524.12 2607.30L526.20 2606.10M524.90 2610.20L527.30 2610.20M519.1 2610.5V2605.5" stroke="#fff" stroke-width="1.1" fill="none"/>
<circle cx="519.1" cy="2610.6" r="1.3" fill="#fff"/>
<g transform="translate(130.5 2656.4) rotate(45)"><text x="0.0" y="0.0" font-size="21.3" fill="#111" stroke="#111" stroke-width="0.25">ET<tspan dx="0.6" dy="7.0" font-size="12.5">3</tspan></text></g>
<g transform="translate(187.7 2656.4) rotate(45)"><text x="0.0" y="0.0" font-size="21.3" fill="#111" stroke="#111" stroke-width="0.25">ET<tspan dx="0.6" dy="7.0" font-size="12.5">1</tspan></text></g>
<g transform="translate(244.9 2656.4) rotate(45)"><text x="0.0" y="0.0" font-size="21.3" fill="#111" stroke="#111" stroke-width="0.25">ET<tspan dx="0.6" dy="7.0" font-size="12.5">5</tspan></text></g>
<g transform="translate(302.1 2656.4) rotate(45)"><text x="0.0" y="0.0" font-size="21.3" fill="#111" stroke="#111" stroke-width="0.25">ET<tspan dx="0.6" dy="7.0" font-size="12.5">2</tspan></text></g>
<g transform="translate(359.3 2656.4) rotate(45)"><text x="0.0" y="0.0" font-size="21.3" fill="#111" stroke="#111" stroke-width="0.25">ET<tspan dx="0.6" dy="7.0" font-size="12.5">4</tspan></text></g>
<rect x="464.90" y="2680.1" width="8.58" height="20" fill="#7a3d96"/>
<rect x="473.18" y="2680.1" width="8.58" height="20" fill="#84509e"/>
<rect x="481.46" y="2680.1" width="8.58" height="20" fill="#8d62a6"/>
<rect x="489.74" y="2680.1" width="8.58" height="20" fill="#9874ae"/>
<rect x="498.02" y="2680.1" width="8.58" height="20" fill="#a389b8"/>
<rect x="506.30" y="2680.1" width="8.58" height="20" fill="#b19fc6"/>
<rect x="514.58" y="2680.1" width="8.58" height="20" fill="#bcacd0"/>
<rect x="522.86" y="2680.1" width="8.58" height="20" fill="#cabcd8"/>
<rect x="531.14" y="2680.1" width="8.58" height="20" fill="#d6cfe2"/>
<rect x="539.42" y="2680.1" width="8.58" height="20" fill="#e6e2e8"/>
<rect x="547.70" y="2680.1" width="8.58" height="20" fill="#e2e6e2"/>
<rect x="555.98" y="2680.1" width="8.58" height="20" fill="#cde2d0"/>
<rect x="564.26" y="2680.1" width="8.58" height="20" fill="#bddcc2"/>
<rect x="572.54" y="2680.1" width="8.58" height="20" fill="#abd2b0"/>
<rect x="580.82" y="2680.1" width="8.58" height="20" fill="#9dcaa2"/>
<rect x="589.10" y="2680.1" width="8.58" height="20" fill="#8ac193"/>
<rect x="597.38" y="2680.1" width="8.58" height="20" fill="#6fb080"/>
<rect x="605.66" y="2680.1" width="8.58" height="20" fill="#5aa36c"/>
<rect x="613.94" y="2680.1" width="8.58" height="20" fill="#479558"/>
<rect x="622.22" y="2680.1" width="8.58" height="20" fill="#3e8847"/>
<text x="461.0" y="2668.4" font-size="21" fill="#111">10<tspan dy="-6.4" font-size="13.5">-6</tspan></text>
<text x="535.7" y="2668.4" font-size="21" fill="#111">10<tspan dy="-6.4" font-size="13.5">-3</tspan></text>
<text x="613.6" y="2668.4" font-size="21" fill="#111">10<tspan dy="-6.4" font-size="13.5">0</tspan></text>
<text x="421.5" y="2692.2" font-size="21" font-weight="bold" fill="#111">R<tspan dy="-6.6" font-size="13">2</tspan></text>
<text x="1.8" y="1761.6" font-size="37" font-weight="bold" fill="#231f20">d</text>
<rect x="697.0" y="1788.8" width="146.2" height="42.6" fill="#5c5d5f"/>
<text x="771.6" y="1822.0" font-size="37" letter-spacing="1.2" text-anchor="middle" fill="#fff" stroke="#fff" stroke-width="0.5">***</text>
<rect x="843.0" y="1788.8" width="146.2" height="42.6" fill="#5c5d5f"/>
<text x="917.5" y="1822.0" font-size="37" letter-spacing="1.2" text-anchor="middle" fill="#fff" stroke="#fff" stroke-width="0.5">***</text>
<rect x="988.9" y="1788.8" width="146.2" height="42.6" fill="#a0514a"/>
<text x="1063.5" y="1822.0" font-size="37" letter-spacing="1.2" text-anchor="middle" fill="#fff" stroke="#fff" stroke-width="0.5">***</text>
<rect x="1134.8" y="1788.8" width="146.2" height="42.6" fill="#d8695d"/>
<text x="1209.4" y="1822.0" font-size="37" letter-spacing="1.2" text-anchor="middle" fill="#fff" stroke="#fff" stroke-width="0.5">**</text>
<text x="655.5" y="1814.4" font-size="21.3" fill="#1a1a1a">ET<tspan dx="0.8" dy="7.2" font-size="12.5">1</tspan></text>
<rect x="697.0" y="1831.1" width="146.2" height="42.6" fill="#ebebeb"/>
<text x="765.4" y="1863.5" font-size="38" text-anchor="middle" fill="#111" stroke="#111" stroke-width="0.3">-</text>
<rect x="843.0" y="1831.1" width="146.2" height="42.6" fill="#a0514a"/>
<text x="917.5" y="1864.3" font-size="37" letter-spacing="1.2" text-anchor="middle" fill="#fff" stroke="#fff" stroke-width="0.5">***</text>
<rect x="988.9" y="1831.1" width="146.2" height="42.6" fill="#808285"/>
<text x="1063.5" y="1864.3" font-size="37" letter-spacing="1.2" text-anchor="middle" fill="#fff" stroke="#fff" stroke-width="0.5">**</text>
<rect x="1134.8" y="1831.1" width="146.2" height="42.6" fill="#b7b9bb"/>
<text x="1209.4" y="1864.3" font-size="37" letter-spacing="1.2" text-anchor="middle" fill="#fff" stroke="#fff" stroke-width="0.5">*</text>
<rect x="1280.8" y="1831.1" width="146.2" height="42.6" fill="#ebebeb"/>
<text x="1349.2" y="1863.5" font-size="38" text-anchor="middle" fill="#111" stroke="#111" stroke-width="0.3">-</text>
<rect x="1572.7" y="1831.1" width="146.2" height="42.6" fill="#a0514a"/>
<text x="1647.3" y="1864.3" font-size="37" letter-spacing="1.2" text-anchor="middle" fill="#fff" stroke="#fff" stroke-width="0.5">***</text>
<text x="655.5" y="1856.8" font-size="21.3" fill="#1a1a1a">ET<tspan dx="0.8" dy="7.2" font-size="12.5">2</tspan></text>
<rect x="697.0" y="1873.5" width="146.2" height="42.6" fill="#ebebeb"/>
<text x="765.4" y="1905.9" font-size="38" text-anchor="middle" fill="#111" stroke="#111" stroke-width="0.3">-</text>
<rect x="843.0" y="1873.5" width="146.2" height="42.6" fill="#ebebeb"/>
<text x="911.3" y="1905.9" font-size="38" text-anchor="middle" fill="#111" stroke="#111" stroke-width="0.3">-</text>
<rect x="988.9" y="1873.5" width="146.2" height="42.6" fill="#ebebeb"/>
<text x="1057.3" y="1905.9" font-size="38" text-anchor="middle" fill="#111" stroke="#111" stroke-width="0.3">-</text>
<rect x="1134.8" y="1873.5" width="146.2" height="42.6" fill="#a0514a"/>
<text x="1209.4" y="1906.7" font-size="37" letter-spacing="1.2" text-anchor="middle" fill="#fff" stroke="#fff" stroke-width="0.5">***</text>
<rect x="1280.8" y="1873.5" width="146.2" height="42.6" fill="#ebebeb"/>
<text x="1349.2" y="1905.9" font-size="38" text-anchor="middle" fill="#111" stroke="#111" stroke-width="0.3">-</text>
<rect x="1426.8" y="1873.5" width="146.2" height="42.6" fill="#ebebeb"/>
<text x="1495.1" y="1905.9" font-size="38" text-anchor="middle" fill="#111" stroke="#111" stroke-width="0.3">-</text>
<text x="655.5" y="1899.2" font-size="21.3" fill="#1a1a1a">ET<tspan dx="0.8" dy="7.2" font-size="12.5">3</tspan></text>
<rect x="697.0" y="1915.8" width="146.2" height="42.6" fill="#ebebeb"/>
<text x="765.4" y="1948.2" font-size="38" text-anchor="middle" fill="#111" stroke="#111" stroke-width="0.3">-</text>
<rect x="843.0" y="1915.8" width="146.2" height="42.6" fill="#a0514a"/>
<text x="917.5" y="1949.0" font-size="37" letter-spacing="1.2" text-anchor="middle" fill="#fff" stroke="#fff" stroke-width="0.5">***</text>
<rect x="988.9" y="1915.8" width="146.2" height="42.6" fill="#5c5d5f"/>
<text x="1063.5" y="1949.0" font-size="37" letter-spacing="1.2" text-anchor="middle" fill="#fff" stroke="#fff" stroke-width="0.5">***</text>
<rect x="1280.8" y="1915.8" width="146.2" height="42.6" fill="#a0514a"/>
<text x="1355.4" y="1949.0" font-size="37" letter-spacing="1.2" text-anchor="middle" fill="#fff" stroke="#fff" stroke-width="0.5">***</text>
<rect x="1426.8" y="1915.8" width="146.2" height="42.6" fill="#a0514a"/>
<text x="1501.3" y="1949.0" font-size="37" letter-spacing="1.2" text-anchor="middle" fill="#fff" stroke="#fff" stroke-width="0.5">***</text>
<text x="655.5" y="1941.6" font-size="21.3" fill="#1a1a1a">ET<tspan dx="0.8" dy="7.2" font-size="12.5">4</tspan></text>
<rect x="697.0" y="1958.2" width="146.2" height="42.6" fill="#a0514a"/>
<text x="771.6" y="1991.4" font-size="37" letter-spacing="1.2" text-anchor="middle" fill="#fff" stroke="#fff" stroke-width="0.5">***</text>
<rect x="843.0" y="1958.2" width="146.2" height="42.6" fill="#ebebeb"/>
<text x="911.3" y="1990.6" font-size="38" text-anchor="middle" fill="#111" stroke="#111" stroke-width="0.3">-</text>
<rect x="988.9" y="1958.2" width="146.2" height="42.6" fill="#5c5d5f"/>
<text x="1063.5" y="1991.4" font-size="37" letter-spacing="1.2" text-anchor="middle" fill="#fff" stroke="#fff" stroke-width="0.5">***</text>
<rect x="1134.8" y="1958.2" width="146.2" height="42.6" fill="#ebebeb"/>
<text x="1203.2" y="1990.6" font-size="38" text-anchor="middle" fill="#111" stroke="#111" stroke-width="0.3">-</text>
<rect x="1280.8" y="1958.2" width="146.2" height="42.6" fill="#ebebeb"/>
<text x="1349.2" y="1990.6" font-size="38" text-anchor="middle" fill="#111" stroke="#111" stroke-width="0.3">-</text>
<rect x="1426.8" y="1958.2" width="146.2" height="42.6" fill="#ebebeb"/>
<text x="1495.1" y="1990.6" font-size="38" text-anchor="middle" fill="#111" stroke="#111" stroke-width="0.3">-</text>
<text x="655.5" y="1984.0" font-size="21.3" fill="#1a1a1a">ET<tspan dx="0.8" dy="7.2" font-size="12.5">5</tspan></text>
<text x="762.9" y="1775.5" font-size="21.3" text-anchor="middle" font-style="italic" fill="#1a1a1a">Hae.</text>
<text x="910.2" y="1775.5" font-size="21.3" text-anchor="middle" font-style="italic" fill="#1a1a1a">Rh.</text>
<text x="1058.2" y="1775.5" font-size="21.3" text-anchor="middle" font-style="italic" fill="#1a1a1a">D.</text>
<text x="1205.3" y="1775.5" font-size="21.3" text-anchor="middle" font-style="italic" fill="#1a1a1a">I.</text>
<text x="1352.3" y="1775.5" font-size="21.3" text-anchor="middle" font-style="italic" fill="#1a1a1a" word-spacing="3">Hy .</text>
<text x="1489.8" y="1775.5" font-size="21.3" text-anchor="middle" font-style="italic" fill="#1a1a1a">Am.</text>
<text x="1639.6" y="1775.5" font-size="21.3" text-anchor="middle" font-style="italic" fill="#1a1a1a">Al.</text>
<rect x="701.0" y="2075.5" width="127.5" height="42.5" fill="#a0514a"/>
<text x="766.2" y="2108.7" font-size="37" letter-spacing="1.2" text-anchor="middle" fill="#fff" stroke="#fff" stroke-width="0.5">***</text>
<rect x="828.2" y="2075.5" width="127.5" height="42.5" fill="#5c5d5f"/>
<text x="893.4" y="2108.7" font-size="37" letter-spacing="1.2" text-anchor="middle" fill="#fff" stroke="#fff" stroke-width="0.5">***</text>
<rect x="955.4" y="2075.5" width="127.5" height="42.5" fill="#5c5d5f"/>
<text x="1020.6" y="2108.7" font-size="37" letter-spacing="1.2" text-anchor="middle" fill="#fff" stroke="#fff" stroke-width="0.5">***</text>
<text x="655.5" y="2107.7" font-size="21.3" fill="#1a1a1a">ET<tspan dx="0.8" dy="7.2" font-size="12.5">1</tspan></text>
<rect x="701.0" y="2117.7" width="127.5" height="42.5" fill="#5c5d5f"/>
<text x="766.2" y="2150.9" font-size="37" letter-spacing="1.2" text-anchor="middle" fill="#fff" stroke="#fff" stroke-width="0.5">***</text>
<rect x="828.2" y="2117.7" width="127.5" height="42.5" fill="#a0514a"/>
<text x="893.4" y="2150.9" font-size="37" letter-spacing="1.2" text-anchor="middle" fill="#fff" stroke="#fff" stroke-width="0.5">***</text>
<rect x="955.4" y="2117.7" width="127.5" height="42.5" fill="#ebebeb"/>
<text x="1014.4" y="2150.1" font-size="38" text-anchor="middle" fill="#111" stroke="#111" stroke-width="0.3">-</text>
<rect x="1082.6" y="2117.7" width="127.5" height="42.5" fill="#a0514a"/>
<text x="1147.8" y="2150.9" font-size="37" letter-spacing="1.2" text-anchor="middle" fill="#fff" stroke="#fff" stroke-width="0.5">***</text>
<rect x="1209.8" y="2117.7" width="127.5" height="42.5" fill="#ebebeb"/>
<text x="1268.8" y="2150.1" font-size="38" text-anchor="middle" fill="#111" stroke="#111" stroke-width="0.3">-</text>
<rect x="1337.0" y="2117.7" width="127.5" height="42.5" fill="#ebebeb"/>
<text x="1396.0" y="2150.1" font-size="38" text-anchor="middle" fill="#111" stroke="#111" stroke-width="0.3">-</text>
<text x="655.5" y="2150.1" font-size="21.3" fill="#1a1a1a">ET<tspan dx="0.8" dy="7.2" font-size="12.5">2</tspan></text>
<rect x="701.0" y="2159.9" width="127.5" height="42.5" fill="#808285"/>
<text x="766.2" y="2193.1" font-size="37" letter-spacing="1.2" text-anchor="middle" fill="#fff" stroke="#fff" stroke-width="0.5">**</text>
<rect x="828.2" y="2159.9" width="127.5" height="42.5" fill="#ebebeb"/>
<text x="887.2" y="2192.3" font-size="38" text-anchor="middle" fill="#111" stroke="#111" stroke-width="0.3">-</text>
<rect x="955.4" y="2159.9" width="127.5" height="42.5" fill="#ebebeb"/>
<text x="1014.4" y="2192.3" font-size="38" text-anchor="middle" fill="#111" stroke="#111" stroke-width="0.3">-</text>
<rect x="1082.6" y="2159.9" width="127.5" height="42.5" fill="#ebebeb"/>
<text x="1141.6" y="2192.3" font-size="38" text-anchor="middle" fill="#111" stroke="#111" stroke-width="0.3">-</text>
<rect x="1591.4" y="2159.9" width="127.5" height="42.5" fill="#f0a8a8"/>
<text x="1656.6" y="2193.1" font-size="37" letter-spacing="1.2" text-anchor="middle" fill="#fff" stroke="#fff" stroke-width="0.5">*</text>
<text x="655.5" y="2192.5" font-size="21.3" fill="#1a1a1a">ET<tspan dx="0.8" dy="7.2" font-size="12.5">3</tspan></text>
<rect x="701.0" y="2202.1" width="127.5" height="42.5" fill="#5c5d5f"/>
<text x="766.2" y="2235.3" font-size="37" letter-spacing="1.2" text-anchor="middle" fill="#fff" stroke="#fff" stroke-width="0.5">***</text>
<rect x="828.2" y="2202.1" width="127.5" height="42.5" fill="#ebebeb"/>
<text x="887.2" y="2234.5" font-size="38" text-anchor="middle" fill="#111" stroke="#111" stroke-width="0.3">-</text>
<rect x="955.4" y="2202.1" width="127.5" height="42.5" fill="#ebebeb"/>
<text x="1014.4" y="2234.5" font-size="38" text-anchor="middle" fill="#111" stroke="#111" stroke-width="0.3">-</text>
<rect x="1082.6" y="2202.1" width="127.5" height="42.5" fill="#d8695d"/>
<text x="1147.8" y="2235.3" font-size="37" letter-spacing="1.2" text-anchor="middle" fill="#fff" stroke="#fff" stroke-width="0.5">**</text>
<rect x="1464.2" y="2202.1" width="127.5" height="42.5" fill="#a0514a"/>
<text x="1529.4" y="2235.3" font-size="37" letter-spacing="1.2" text-anchor="middle" fill="#fff" stroke="#fff" stroke-width="0.5">***</text>
<rect x="1591.4" y="2202.1" width="127.5" height="42.5" fill="#ebebeb"/>
<text x="1650.4" y="2234.5" font-size="38" text-anchor="middle" fill="#111" stroke="#111" stroke-width="0.3">-</text>
<text x="655.5" y="2234.9" font-size="21.3" fill="#1a1a1a">ET<tspan dx="0.8" dy="7.2" font-size="12.5">4</tspan></text>
<rect x="701.0" y="2244.3" width="127.5" height="42.5" fill="#ebebeb"/>
<text x="760.0" y="2276.7" font-size="38" text-anchor="middle" fill="#111" stroke="#111" stroke-width="0.3">-</text>
<rect x="828.2" y="2244.3" width="127.5" height="42.5" fill="#ebebeb"/>
<text x="887.2" y="2276.7" font-size="38" text-anchor="middle" fill="#111" stroke="#111" stroke-width="0.3">-</text>
<rect x="955.4" y="2244.3" width="127.5" height="42.5" fill="#a0514a"/>
<text x="1020.6" y="2277.5" font-size="37" letter-spacing="1.2" text-anchor="middle" fill="#fff" stroke="#fff" stroke-width="0.5">***</text>
<rect x="1082.6" y="2244.3" width="127.5" height="42.5" fill="#f0a8a8"/>
<text x="1147.8" y="2277.5" font-size="37" letter-spacing="1.2" text-anchor="middle" fill="#fff" stroke="#fff" stroke-width="0.5">*</text>
<rect x="1209.8" y="2244.3" width="127.5" height="42.5" fill="#f0a8a8"/>
<text x="1275.0" y="2277.5" font-size="37" letter-spacing="1.2" text-anchor="middle" fill="#fff" stroke="#fff" stroke-width="0.5">*</text>
<rect x="1337.0" y="2244.3" width="127.5" height="42.5" fill="#ebebeb"/>
<text x="1396.0" y="2276.7" font-size="38" text-anchor="middle" fill="#111" stroke="#111" stroke-width="0.3">-</text>
<text x="655.5" y="2277.3" font-size="21.3" fill="#1a1a1a">ET<tspan dx="0.8" dy="7.2" font-size="12.5">5</tspan></text>
<text x="769.5" y="2062.6" font-size="21.3" text-anchor="middle" fill="#1a1a1a">Free-living</text>
<text x="893.9" y="2062.6" font-size="21.3" text-anchor="middle" fill="#1a1a1a">Caprinae</text>
<text x="1018.2" y="2062.6" font-size="21.3" text-anchor="middle" fill="#1a1a1a">Bovinae</text>
<text x="1142.6" y="2062.6" font-size="21.3" text-anchor="middle" fill="#1a1a1a">Canidae</text>
<text x="1266.5" y="2062.6" font-size="21.3" text-anchor="middle" fill="#1a1a1a">Others</text>
<text x="1390.5" y="2062.6" font-size="21.3" text-anchor="middle" fill="#1a1a1a">Suinae</text>
<text x="1514.4" y="2062.6" font-size="21.3" text-anchor="middle" fill="#1a1a1a">Manidae</text>
<text x="1639.1" y="2062.6" font-size="21.3" text-anchor="middle" fill="#1a1a1a">Camelidae</text>
<rect x="702.5" y="2399.9" width="145.5" height="42.6" fill="#5c5d5f"/>
<text x="776.7" y="2433.1" font-size="37" letter-spacing="1.2" text-anchor="middle" fill="#fff" stroke="#fff" stroke-width="0.5">***</text>
<rect x="847.6" y="2399.9" width="145.5" height="42.6" fill="#a0514a"/>
<text x="921.8" y="2433.1" font-size="37" letter-spacing="1.2" text-anchor="middle" fill="#fff" stroke="#fff" stroke-width="0.5">***</text>
<rect x="992.8" y="2399.9" width="145.5" height="42.6" fill="#808285"/>
<text x="1067.0" y="2433.1" font-size="37" letter-spacing="1.2" text-anchor="middle" fill="#fff" stroke="#fff" stroke-width="0.5">**</text>
<rect x="1138.0" y="2399.9" width="145.5" height="42.6" fill="#a0514a"/>
<text x="1212.1" y="2433.1" font-size="37" letter-spacing="1.2" text-anchor="middle" fill="#fff" stroke="#fff" stroke-width="0.5">***</text>
<rect x="1428.2" y="2399.9" width="145.5" height="42.6" fill="#ebebeb"/>
<text x="1496.2" y="2432.3" font-size="38" text-anchor="middle" fill="#111" stroke="#111" stroke-width="0.3">-</text>
<rect x="1573.4" y="2399.9" width="145.5" height="42.6" fill="#a0514a"/>
<text x="1647.6" y="2433.1" font-size="37" letter-spacing="1.2" text-anchor="middle" fill="#fff" stroke="#fff" stroke-width="0.5">***</text>
<text x="655.5" y="2425.8" font-size="21.3" fill="#1a1a1a">ET<tspan dx="0.8" dy="7.2" font-size="12.5">1</tspan></text>
<rect x="702.5" y="2442.2" width="145.5" height="42.6" fill="#ebebeb"/>
<text x="770.5" y="2474.7" font-size="38" text-anchor="middle" fill="#111" stroke="#111" stroke-width="0.3">-</text>
<rect x="847.6" y="2442.2" width="145.5" height="42.6" fill="#5c5d5f"/>
<text x="921.8" y="2475.4" font-size="37" letter-spacing="1.2" text-anchor="middle" fill="#fff" stroke="#fff" stroke-width="0.5">***</text>
<rect x="992.8" y="2442.2" width="145.5" height="42.6" fill="#ebebeb"/>
<text x="1060.8" y="2474.7" font-size="38" text-anchor="middle" fill="#111" stroke="#111" stroke-width="0.3">-</text>
<rect x="1138.0" y="2442.2" width="145.5" height="42.6" fill="#808285"/>
<text x="1212.1" y="2475.4" font-size="37" letter-spacing="1.2" text-anchor="middle" fill="#fff" stroke="#fff" stroke-width="0.5">**</text>
<rect x="1283.1" y="2442.2" width="145.5" height="42.6" fill="#d8695d"/>
<text x="1357.3" y="2475.4" font-size="37" letter-spacing="1.2" text-anchor="middle" fill="#fff" stroke="#fff" stroke-width="0.5">**</text>
<rect x="1428.2" y="2442.2" width="145.5" height="42.6" fill="#a0514a"/>
<text x="1502.4" y="2475.4" font-size="37" letter-spacing="1.2" text-anchor="middle" fill="#fff" stroke="#fff" stroke-width="0.5">***</text>
<rect x="1573.4" y="2442.2" width="145.5" height="42.6" fill="#ebebeb"/>
<text x="1641.4" y="2474.7" font-size="38" text-anchor="middle" fill="#111" stroke="#111" stroke-width="0.3">-</text>
<text x="655.5" y="2468.4" font-size="21.3" fill="#1a1a1a">ET<tspan dx="0.8" dy="7.2" font-size="12.5">2</tspan></text>
<rect x="702.5" y="2484.6" width="145.5" height="42.6" fill="#ebebeb"/>
<text x="770.5" y="2517.0" font-size="38" text-anchor="middle" fill="#111" stroke="#111" stroke-width="0.3">-</text>
<rect x="847.6" y="2484.6" width="145.5" height="42.6" fill="#5c5d5f"/>
<text x="921.8" y="2517.8" font-size="37" letter-spacing="1.2" text-anchor="middle" fill="#fff" stroke="#fff" stroke-width="0.5">***</text>
<rect x="992.8" y="2484.6" width="145.5" height="42.6" fill="#ebebeb"/>
<text x="1060.8" y="2517.0" font-size="38" text-anchor="middle" fill="#111" stroke="#111" stroke-width="0.3">-</text>
<rect x="1138.0" y="2484.6" width="145.5" height="42.6" fill="#ebebeb"/>
<text x="1205.9" y="2517.0" font-size="38" text-anchor="middle" fill="#111" stroke="#111" stroke-width="0.3">-</text>
<rect x="1283.1" y="2484.6" width="145.5" height="42.6" fill="#ebebeb"/>
<text x="1351.1" y="2517.0" font-size="38" text-anchor="middle" fill="#111" stroke="#111" stroke-width="0.3">-</text>
<rect x="1428.2" y="2484.6" width="145.5" height="42.6" fill="#ebebeb"/>
<text x="1496.2" y="2517.0" font-size="38" text-anchor="middle" fill="#111" stroke="#111" stroke-width="0.3">-</text>
<rect x="1573.4" y="2484.6" width="145.5" height="42.6" fill="#ebebeb"/>
<text x="1641.4" y="2517.0" font-size="38" text-anchor="middle" fill="#111" stroke="#111" stroke-width="0.3">-</text>
<text x="655.5" y="2510.9" font-size="21.3" fill="#1a1a1a">ET<tspan dx="0.8" dy="7.2" font-size="12.5">3</tspan></text>
<rect x="702.5" y="2527.0" width="145.5" height="42.6" fill="#ebebeb"/>
<text x="770.5" y="2559.4" font-size="38" text-anchor="middle" fill="#111" stroke="#111" stroke-width="0.3">-</text>
<rect x="847.6" y="2527.0" width="145.5" height="42.6" fill="#5c5d5f"/>
<text x="921.8" y="2560.2" font-size="37" letter-spacing="1.2" text-anchor="middle" fill="#fff" stroke="#fff" stroke-width="0.5">***</text>
<rect x="992.8" y="2527.0" width="145.5" height="42.6" fill="#b7b9bb"/>
<text x="1067.0" y="2560.2" font-size="37" letter-spacing="1.2" text-anchor="middle" fill="#fff" stroke="#fff" stroke-width="0.5">*</text>
<rect x="1138.0" y="2527.0" width="145.5" height="42.6" fill="#f0a8a8"/>
<text x="1212.1" y="2560.2" font-size="37" letter-spacing="1.2" text-anchor="middle" fill="#fff" stroke="#fff" stroke-width="0.5">*</text>
<rect x="1283.1" y="2527.0" width="145.5" height="42.6" fill="#a0514a"/>
<text x="1357.3" y="2560.2" font-size="37" letter-spacing="1.2" text-anchor="middle" fill="#fff" stroke="#fff" stroke-width="0.5">***</text>
<rect x="1428.2" y="2527.0" width="145.5" height="42.6" fill="#b7b9bb"/>
<text x="1502.4" y="2560.2" font-size="37" letter-spacing="1.2" text-anchor="middle" fill="#fff" stroke="#fff" stroke-width="0.5">*</text>
<rect x="1573.4" y="2527.0" width="145.5" height="42.6" fill="#ebebeb"/>
<text x="1641.4" y="2559.4" font-size="38" text-anchor="middle" fill="#111" stroke="#111" stroke-width="0.3">-</text>
<text x="655.5" y="2553.5" font-size="21.3" fill="#1a1a1a">ET<tspan dx="0.8" dy="7.2" font-size="12.5">4</tspan></text>
<rect x="702.5" y="2569.3" width="145.5" height="42.6" fill="#a0514a"/>
<text x="776.7" y="2602.5" font-size="37" letter-spacing="1.2" text-anchor="middle" fill="#fff" stroke="#fff" stroke-width="0.5">***</text>
<rect x="847.6" y="2569.3" width="145.5" height="42.6" fill="#d8695d"/>
<text x="921.8" y="2602.5" font-size="37" letter-spacing="1.2" text-anchor="middle" fill="#fff" stroke="#fff" stroke-width="0.5">**</text>
<rect x="992.8" y="2569.3" width="145.5" height="42.6" fill="#a0514a"/>
<text x="1067.0" y="2602.5" font-size="37" letter-spacing="1.2" text-anchor="middle" fill="#fff" stroke="#fff" stroke-width="0.5">***</text>
<rect x="1138.0" y="2569.3" width="145.5" height="42.6" fill="#a0514a"/>
<text x="1212.1" y="2602.5" font-size="37" letter-spacing="1.2" text-anchor="middle" fill="#fff" stroke="#fff" stroke-width="0.5">***</text>
<rect x="1283.1" y="2569.3" width="145.5" height="42.6" fill="#5c5d5f"/>
<text x="1357.3" y="2602.5" font-size="37" letter-spacing="1.2" text-anchor="middle" fill="#fff" stroke="#fff" stroke-width="0.5">***</text>
<rect x="1428.2" y="2569.3" width="145.5" height="42.6" fill="#ebebeb"/>
<text x="1496.2" y="2601.7" font-size="38" text-anchor="middle" fill="#111" stroke="#111" stroke-width="0.3">-</text>
<rect x="1573.4" y="2569.3" width="145.5" height="42.6" fill="#b7b9bb"/>
<text x="1647.6" y="2602.5" font-size="37" letter-spacing="1.2" text-anchor="middle" fill="#fff" stroke="#fff" stroke-width="0.5">*</text>
<text x="655.5" y="2596.0" font-size="21.3" fill="#1a1a1a">ET<tspan dx="0.8" dy="7.2" font-size="12.5">5</tspan></text>
<text x="769.5" y="2354.4" font-size="21.3" text-anchor="middle" fill="#1a1a1a">Central</text>
<text x="769.5" y="2379.7" font-size="21.3" text-anchor="middle" fill="#1a1a1a">China</text>
<text x="914.6" y="2354.4" font-size="21.3" text-anchor="middle" fill="#1a1a1a">Northeast</text>
<text x="914.6" y="2379.7" font-size="21.3" text-anchor="middle" fill="#1a1a1a">China</text>
<text x="1059.0" y="2354.4" font-size="21.3" text-anchor="middle" fill="#1a1a1a">North</text>
<text x="1059.0" y="2379.7" font-size="21.3" text-anchor="middle" fill="#1a1a1a">China</text>
<text x="1204.8" y="2354.4" font-size="21.3" text-anchor="middle" fill="#1a1a1a">Inner Mongolia</text>
<text x="1204.8" y="2379.7" font-size="21.3" text-anchor="middle" fill="#1a1a1a">-Xinjiang</text>
<text x="1349.2" y="2354.4" font-size="21.3" text-anchor="middle" fill="#1a1a1a">South</text>
<text x="1349.2" y="2379.7" font-size="21.3" text-anchor="middle" fill="#1a1a1a">China</text>
<text x="1493.9" y="2354.4" font-size="21.3" text-anchor="middle" fill="#1a1a1a">Southwest</text>
<text x="1493.9" y="2379.7" font-size="21.3" text-anchor="middle" fill="#1a1a1a">China</text>
<text x="1639.1" y="2354.4" font-size="21.3" text-anchor="middle" fill="#1a1a1a">Qinghai</text>
<text x="1639.1" y="2379.7" font-size="21.3" text-anchor="middle" fill="#1a1a1a">Xizang</text>
<text x="732.1" y="2685.7" font-size="25" font-weight="bold" fill="#1a1a1a">Adjusted p-value</text>
<text x="978.3" y="2685.7" font-size="21.3" fill="#1a1a1a">&gt;0.05</text>
<text x="1133.4" y="2685.7" font-size="21.3" fill="#1a1a1a">&lt;0.05</text>
<text x="1327.6" y="2685.7" font-size="21.3" fill="#1a1a1a">&lt;0.01</text>
<text x="1520.0" y="2685.7" font-size="21.3" fill="#1a1a1a">&lt;0.001</text>
<rect x="1068.2" y="2655.3" width="44.6" height="39.7" fill="#ebebeb"/>
<text x="1088.6" y="2684.7" font-size="38" text-anchor="middle" fill="#111" stroke="#111" stroke-width="0.3">-</text>
<rect x="1221.1" y="2655.3" width="45.1" height="39.7" fill="#b7b9bb"/>
<text x="1243.5" y="2693.1" font-size="31" text-anchor="middle" fill="#fff" stroke="#fff" stroke-width="0.4">*</text>
<rect x="1266.0" y="2655.3" width="45.4" height="39.7" fill="#f0a8a8"/>
<text x="1288.6" y="2693.1" font-size="31" text-anchor="middle" fill="#fff" stroke="#fff" stroke-width="0.4">*</text>
<rect x="1414.0" y="2655.3" width="45.5" height="39.7" fill="#808285"/>
<text x="1436.7" y="2693.1" font-size="31" text-anchor="middle" fill="#fff" stroke="#fff" stroke-width="0.4">**</text>
<rect x="1459.3" y="2655.3" width="45.4" height="39.7" fill="#d8695d"/>
<text x="1481.9" y="2693.1" font-size="31" text-anchor="middle" fill="#fff" stroke="#fff" stroke-width="0.4">**</text>
<rect x="1628.1" y="2655.3" width="45.1" height="39.7" fill="#5c5d5f"/>
<text x="1650.5" y="2693.1" font-size="31" text-anchor="middle" fill="#fff" stroke="#fff" stroke-width="0.4">***</text>
<rect x="1673.0" y="2655.3" width="45.8" height="39.7" fill="#a0514a"/>
<text x="1695.8" y="2693.1" font-size="31" text-anchor="middle" fill="#fff" stroke="#fff" stroke-width="0.4">***</text>
<text x="616.5" y="1761.5" font-size="37" font-weight="bold" fill="#231f20">e</text>
</svg>
</body></html>
